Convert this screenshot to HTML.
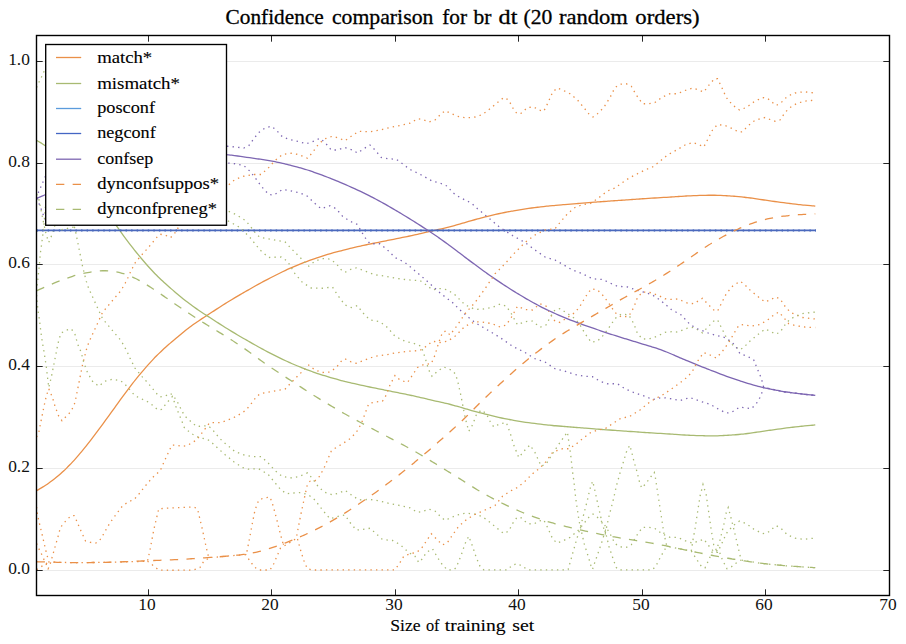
<!DOCTYPE html>
<html><head><meta charset="utf-8"><title>Confidence comparison</title>
<style>
html,body{margin:0;padding:0;background:#fff;}
body{width:906px;height:644px;overflow:hidden;}
svg text{font-family:"Liberation Serif",serif;fill:#000;}
.tk{font-size:17.4px;fill:#111;}
.lb{font-size:16.67px;stroke:#000;stroke-width:0.12px;}
.ti{font-size:21px;stroke:#000;stroke-width:0.3px;}
</style></head><body>
<svg width="906" height="644" viewBox="0 0 906 644" style="display:block">
<rect width="906" height="644" fill="#fff"/>
<defs><clipPath id="ax"><rect x="36.5" y="35.5" width="853.0" height="560.0"/></clipPath></defs>
<line x1="36.5" x2="889.5" y1="570.5" y2="570.5" stroke="#ebebeb" stroke-width="1"/>
<line x1="36.5" x2="889.5" y1="468.5" y2="468.5" stroke="#ebebeb" stroke-width="1"/>
<line x1="36.5" x2="889.5" y1="366.5" y2="366.5" stroke="#ebebeb" stroke-width="1"/>
<line x1="36.5" x2="889.5" y1="264.5" y2="264.5" stroke="#ebebeb" stroke-width="1"/>
<line x1="36.5" x2="889.5" y1="163.5" y2="163.5" stroke="#ebebeb" stroke-width="1"/>
<line x1="36.5" x2="889.5" y1="61.5" y2="61.5" stroke="#ebebeb" stroke-width="1"/>
<g clip-path="url(#ax)">
<path d="M36.60,490.67 C37.10,490.38 38.60,489.51 39.60,488.92 C40.60,488.32 41.60,487.72 42.60,487.10 C43.60,486.49 44.60,485.86 45.60,485.21 C46.60,484.56 47.60,483.90 48.60,483.20 C49.60,482.51 50.60,481.80 51.60,481.06 C52.60,480.32 53.60,479.55 54.60,478.77 C55.60,477.98 56.60,477.16 57.60,476.32 C58.60,475.48 59.60,474.62 60.60,473.73 C61.60,472.84 62.60,471.93 63.60,470.99 C64.60,470.05 65.60,469.09 66.60,468.10 C67.60,467.12 68.60,466.11 69.60,465.07 C70.60,464.04 71.60,462.98 72.60,461.90 C73.60,460.82 74.60,459.72 75.60,458.60 C76.60,457.47 77.60,456.32 78.60,455.15 C79.60,453.99 80.60,452.80 81.60,451.59 C82.60,450.38 83.60,449.16 84.60,447.92 C85.60,446.68 86.60,445.42 87.60,444.14 C88.60,442.87 89.60,441.58 90.60,440.29 C91.60,438.99 92.60,437.68 93.60,436.37 C94.60,435.05 95.60,433.72 96.60,432.39 C97.60,431.06 98.60,429.72 99.60,428.38 C100.60,427.04 101.60,425.69 102.60,424.33 C103.60,422.97 104.60,421.61 105.60,420.24 C106.60,418.87 107.60,417.50 108.60,416.12 C109.60,414.74 110.60,413.36 111.60,411.97 C112.60,410.58 113.60,409.19 114.60,407.80 C115.60,406.41 116.60,405.01 117.60,403.62 C118.60,402.23 119.60,400.84 120.60,399.46 C121.60,398.08 122.60,396.70 123.60,395.33 C124.60,393.97 125.60,392.61 126.60,391.27 C127.60,389.93 128.60,388.60 129.60,387.29 C130.60,385.98 131.60,384.69 132.60,383.41 C133.60,382.13 134.60,380.87 135.60,379.63 C136.60,378.38 137.60,377.15 138.60,375.93 C139.60,374.71 140.60,373.51 141.60,372.32 C142.60,371.14 143.60,369.96 144.60,368.81 C145.60,367.65 146.60,366.51 147.60,365.39 C148.60,364.27 149.60,363.16 150.60,362.08 C151.60,361.00 152.60,359.94 153.60,358.89 C154.60,357.85 155.60,356.83 156.60,355.82 C157.60,354.82 158.60,353.84 159.60,352.87 C160.60,351.90 161.60,350.96 162.60,350.02 C163.60,349.09 164.60,348.18 165.60,347.27 C166.60,346.37 167.60,345.48 168.60,344.60 C169.60,343.71 170.60,342.84 171.60,341.98 C172.60,341.11 173.60,340.26 174.60,339.41 C175.60,338.56 176.60,337.71 177.60,336.88 C178.60,336.04 179.60,335.21 180.60,334.38 C181.60,333.56 182.60,332.75 183.60,331.94 C184.60,331.14 185.60,330.35 186.60,329.57 C187.60,328.79 188.60,328.03 189.60,327.28 C190.60,326.53 191.60,325.80 192.60,325.08 C193.60,324.36 194.60,323.66 195.60,322.97 C196.60,322.27 197.60,321.59 198.60,320.92 C199.60,320.24 200.60,319.57 201.60,318.91 C202.60,318.25 203.60,317.59 204.60,316.93 C205.60,316.28 206.60,315.62 207.60,314.97 C208.60,314.32 209.60,313.67 210.60,313.02 C211.60,312.37 212.60,311.73 213.60,311.08 C214.60,310.43 215.60,309.79 216.60,309.14 C217.60,308.50 218.60,307.86 219.60,307.22 C220.60,306.58 221.60,305.94 222.60,305.31 C223.60,304.67 224.60,304.04 225.60,303.41 C226.60,302.79 227.60,302.16 228.60,301.55 C229.60,300.93 230.60,300.32 231.60,299.72 C232.60,299.11 233.60,298.51 234.60,297.92 C235.60,297.33 236.60,296.74 237.60,296.15 C238.60,295.56 239.60,294.98 240.60,294.40 C241.60,293.82 242.60,293.24 243.60,292.66 C244.60,292.08 245.60,291.51 246.60,290.93 C247.60,290.36 248.60,289.78 249.60,289.21 C250.60,288.64 251.60,288.07 252.60,287.50 C253.60,286.93 254.60,286.36 255.60,285.80 C256.60,285.24 257.60,284.68 258.60,284.13 C259.60,283.58 260.60,283.03 261.60,282.48 C262.60,281.94 263.60,281.41 264.60,280.87 C265.60,280.34 266.60,279.82 267.60,279.30 C268.60,278.78 269.60,278.26 270.60,277.75 C271.60,277.24 272.60,276.73 273.60,276.22 C274.60,275.72 275.60,275.22 276.60,274.72 C277.60,274.22 278.60,273.72 279.60,273.23 C280.60,272.73 281.60,272.24 282.60,271.76 C283.60,271.28 284.60,270.80 285.60,270.33 C286.60,269.86 287.60,269.39 288.60,268.94 C289.60,268.49 290.60,268.04 291.60,267.61 C292.60,267.17 293.60,266.75 294.60,266.33 C295.60,265.91 296.60,265.50 297.60,265.09 C298.60,264.69 299.60,264.29 300.60,263.89 C301.60,263.50 302.60,263.11 303.60,262.72 C304.60,262.33 305.60,261.94 306.60,261.56 C307.60,261.18 308.60,260.81 309.60,260.44 C310.60,260.07 311.60,259.70 312.60,259.34 C313.60,258.99 314.60,258.64 315.60,258.30 C316.60,257.95 317.60,257.62 318.60,257.29 C319.60,256.96 320.60,256.64 321.60,256.33 C322.60,256.01 323.60,255.70 324.60,255.40 C325.60,255.09 326.60,254.79 327.60,254.49 C328.60,254.19 329.60,253.89 330.60,253.59 C331.60,253.30 332.60,253.01 333.60,252.72 C334.60,252.43 335.60,252.15 336.60,251.87 C337.60,251.59 338.60,251.32 339.60,251.05 C340.60,250.78 341.60,250.52 342.60,250.27 C343.60,250.01 344.60,249.77 345.60,249.52 C346.60,249.28 347.60,249.04 348.60,248.80 C349.60,248.56 350.60,248.33 351.60,248.09 C352.60,247.86 353.60,247.63 354.60,247.40 C355.60,247.17 356.60,246.94 357.60,246.72 C358.60,246.49 359.60,246.27 360.60,246.05 C361.60,245.82 362.60,245.60 363.60,245.39 C364.60,245.17 365.60,244.95 366.60,244.74 C367.60,244.53 368.60,244.32 369.60,244.11 C370.60,243.90 371.60,243.70 372.60,243.50 C373.60,243.29 374.60,243.09 375.60,242.89 C376.60,242.68 377.60,242.48 378.60,242.28 C379.60,242.08 380.60,241.88 381.60,241.68 C382.60,241.48 383.60,241.28 384.60,241.08 C385.60,240.88 386.60,240.68 387.60,240.48 C388.60,240.28 389.60,240.08 390.60,239.88 C391.60,239.68 392.60,239.48 393.60,239.28 C394.60,239.08 395.60,238.88 396.60,238.68 C397.60,238.48 398.60,238.28 399.60,238.08 C400.60,237.88 401.60,237.68 402.60,237.47 C403.60,237.27 404.60,237.07 405.60,236.87 C406.60,236.66 407.60,236.46 408.60,236.25 C409.60,236.04 410.60,235.83 411.60,235.61 C412.60,235.39 413.60,235.18 414.60,234.95 C415.60,234.73 416.60,234.50 417.60,234.27 C418.60,234.04 419.60,233.80 420.60,233.57 C421.60,233.33 422.60,233.09 423.60,232.86 C424.60,232.62 425.60,232.38 426.60,232.15 C427.60,231.91 428.60,231.68 429.60,231.44 C430.60,231.21 431.60,230.98 432.60,230.76 C433.60,230.53 434.60,230.31 435.60,230.09 C436.60,229.86 437.60,229.64 438.60,229.42 C439.60,229.20 440.60,228.98 441.60,228.76 C442.60,228.53 443.60,228.30 444.60,228.07 C445.60,227.84 446.60,227.60 447.60,227.36 C448.60,227.11 449.60,226.86 450.60,226.60 C451.60,226.34 452.60,226.07 453.60,225.80 C454.60,225.53 455.60,225.25 456.60,224.96 C457.60,224.68 458.60,224.39 459.60,224.10 C460.60,223.81 461.60,223.51 462.60,223.22 C463.60,222.92 464.60,222.63 465.60,222.33 C466.60,222.04 467.60,221.74 468.60,221.45 C469.60,221.16 470.60,220.87 471.60,220.59 C472.60,220.31 473.60,220.03 474.60,219.75 C475.60,219.47 476.60,219.20 477.60,218.93 C478.60,218.67 479.60,218.40 480.60,218.14 C481.60,217.88 482.60,217.62 483.60,217.37 C484.60,217.12 485.60,216.86 486.60,216.61 C487.60,216.36 488.60,216.11 489.60,215.87 C490.60,215.62 491.60,215.38 492.60,215.14 C493.60,214.90 494.60,214.66 495.60,214.43 C496.60,214.20 497.60,213.97 498.60,213.75 C499.60,213.53 500.60,213.32 501.60,213.11 C502.60,212.90 503.60,212.70 504.60,212.50 C505.60,212.30 506.60,212.11 507.60,211.92 C508.60,211.73 509.60,211.54 510.60,211.36 C511.60,211.18 512.60,210.99 513.60,210.82 C514.60,210.64 515.60,210.46 516.60,210.29 C517.60,210.11 518.60,209.94 519.60,209.78 C520.60,209.61 521.60,209.45 522.60,209.29 C523.60,209.13 524.60,208.98 525.60,208.83 C526.60,208.68 527.60,208.54 528.60,208.40 C529.60,208.26 530.60,208.13 531.60,208.00 C532.60,207.87 533.60,207.74 534.60,207.62 C535.60,207.49 536.60,207.37 537.60,207.25 C538.60,207.13 539.60,207.01 540.60,206.89 C541.60,206.77 542.60,206.66 543.60,206.55 C544.60,206.43 545.60,206.32 546.60,206.21 C547.60,206.11 548.60,206.00 549.60,205.90 C550.60,205.80 551.60,205.70 552.60,205.61 C553.60,205.51 554.60,205.42 555.60,205.34 C556.60,205.25 557.60,205.16 558.60,205.08 C559.60,204.99 560.60,204.91 561.60,204.83 C562.60,204.75 563.60,204.66 564.60,204.58 C565.60,204.50 566.60,204.42 567.60,204.34 C568.60,204.26 569.60,204.18 570.60,204.10 C571.60,204.02 572.60,203.94 573.60,203.86 C574.60,203.78 575.60,203.70 576.60,203.62 C577.60,203.54 578.60,203.46 579.60,203.38 C580.60,203.30 581.60,203.22 582.60,203.14 C583.60,203.06 584.60,202.98 585.60,202.90 C586.60,202.82 587.60,202.74 588.60,202.66 C589.60,202.58 590.60,202.50 591.60,202.43 C592.60,202.35 593.60,202.27 594.60,202.19 C595.60,202.11 596.60,202.04 597.60,201.96 C598.60,201.88 599.60,201.81 600.60,201.73 C601.60,201.66 602.60,201.58 603.60,201.51 C604.60,201.44 605.60,201.37 606.60,201.29 C607.60,201.22 608.60,201.15 609.60,201.08 C610.60,201.01 611.60,200.94 612.60,200.87 C613.60,200.80 614.60,200.73 615.60,200.66 C616.60,200.59 617.60,200.52 618.60,200.45 C619.60,200.38 620.60,200.31 621.60,200.24 C622.60,200.17 623.60,200.10 624.60,200.03 C625.60,199.96 626.60,199.89 627.60,199.82 C628.60,199.75 629.60,199.68 630.60,199.61 C631.60,199.54 632.60,199.47 633.60,199.40 C634.60,199.33 635.60,199.26 636.60,199.19 C637.60,199.12 638.60,199.05 639.60,198.98 C640.60,198.91 641.60,198.84 642.60,198.77 C643.60,198.71 644.60,198.64 645.60,198.57 C646.60,198.51 647.60,198.44 648.60,198.37 C649.60,198.31 650.60,198.25 651.60,198.18 C652.60,198.12 653.60,198.06 654.60,198.00 C655.60,197.94 656.60,197.88 657.60,197.82 C658.60,197.76 659.60,197.70 660.60,197.64 C661.60,197.58 662.60,197.52 663.60,197.46 C664.60,197.40 665.60,197.34 666.60,197.28 C667.60,197.22 668.60,197.16 669.60,197.10 C670.60,197.03 671.60,196.97 672.60,196.90 C673.60,196.83 674.60,196.77 675.60,196.70 C676.60,196.63 677.60,196.56 678.60,196.49 C679.60,196.42 680.60,196.35 681.60,196.28 C682.60,196.21 683.60,196.15 684.60,196.09 C685.60,196.03 686.60,195.98 687.60,195.92 C688.60,195.87 689.60,195.83 690.60,195.78 C691.60,195.74 692.60,195.70 693.60,195.67 C694.60,195.63 695.60,195.59 696.60,195.56 C697.60,195.53 698.60,195.50 699.60,195.47 C700.60,195.44 701.60,195.41 702.60,195.38 C703.60,195.36 704.60,195.33 705.60,195.31 C706.60,195.29 707.60,195.27 708.60,195.26 C709.60,195.24 710.60,195.23 711.60,195.23 C712.60,195.23 713.60,195.24 714.60,195.25 C715.60,195.27 716.60,195.29 717.60,195.32 C718.60,195.35 719.60,195.39 720.60,195.43 C721.60,195.48 722.60,195.53 723.60,195.58 C724.60,195.64 725.60,195.69 726.60,195.75 C727.60,195.81 728.60,195.88 729.60,195.94 C730.60,196.01 731.60,196.07 732.60,196.14 C733.60,196.21 734.60,196.29 735.60,196.36 C736.60,196.44 737.60,196.52 738.60,196.61 C739.60,196.70 740.60,196.80 741.60,196.90 C742.60,197.00 743.60,197.11 744.60,197.23 C745.60,197.34 746.60,197.47 747.60,197.60 C748.60,197.73 749.60,197.86 750.60,198.00 C751.60,198.14 752.60,198.29 753.60,198.43 C754.60,198.57 755.60,198.72 756.60,198.87 C757.60,199.02 758.60,199.17 759.60,199.32 C760.60,199.46 761.60,199.61 762.60,199.76 C763.60,199.91 764.60,200.06 765.60,200.21 C766.60,200.35 767.60,200.50 768.60,200.64 C769.60,200.79 770.60,200.93 771.60,201.08 C772.60,201.22 773.60,201.36 774.60,201.50 C775.60,201.64 776.60,201.78 777.60,201.91 C778.60,202.05 779.60,202.19 780.60,202.32 C781.60,202.46 782.60,202.59 783.60,202.72 C784.60,202.85 785.60,202.99 786.60,203.12 C787.60,203.24 788.60,203.37 789.60,203.50 C790.60,203.62 791.60,203.75 792.60,203.87 C793.60,203.99 794.60,204.11 795.60,204.22 C796.60,204.34 797.60,204.45 798.60,204.56 C799.60,204.66 800.60,204.77 801.60,204.87 C802.60,204.98 803.60,205.08 804.60,205.17 C805.60,205.27 806.60,205.37 807.60,205.46 C808.60,205.55 809.60,205.64 810.60,205.72 C811.60,205.81 812.82,205.89 813.60,205.96 C814.38,206.04 815.02,206.15 815.30,206.19" fill="none" stroke="#ea9048" stroke-width="1.3"/>
<path d="M36.60,437.00 L38.75,432.50 L41.25,420.00 L43.75,407.50 L46.25,396.25 L48.75,388.75 L52.50,397.50 L55.00,406.25 L58.75,416.25 L62.00,420.75 L66.25,416.25 L71.25,411.25 L75.00,402.50 L77.50,390.00 L80.00,377.50 L82.50,365.00 L86.25,350.00 L88.75,342.50 L102.50,312.50 L115.00,297.50 L119.40,292.50 L122.50,287.90 L125.25,283.00 L127.75,278.00 L130.00,273.00 L132.50,268.00 L135.00,263.00 L138.50,258.75 L142.50,254.00 L148.00,248.00 L157.20,236.90 L160.10,234.20 L165.50,235.20 L170.50,237.70 L174.00,234.20 L176.80,230.40 L179.30,225.40 L181.80,220.40 L184.50,215.40 L188.40,211.80 L192.60,207.90 L196.90,204.60 L202.20,205.00 L207.70,205.50 L211.70,202.50 L215.30,198.00 L218.80,193.80 L222.70,189.70 L227.30,186.00 L235.00,179.50 L243.75,176.25 L252.50,174.50 L261.25,174.50 L268.75,167.50 L275.00,160.50 L282.50,154.50 L291.25,153.25 L298.75,154.50 L307.50,158.25 L312.50,152.50 L318.75,143.75 L325.00,138.75 L332.50,136.25 L338.75,138.00 L345.00,140.75 L351.25,136.25 L358.75,131.25 L370.00,131.75 L380.00,130.00 L390.00,127.50 L400.00,125.50 L410.00,123.25 L417.50,118.75 L422.50,119.50 L428.75,122.00 L435.00,120.00 L440.00,115.00 L445.00,110.75 L450.00,113.00 L457.50,116.25 L466.25,118.00 L475.00,117.00 L482.50,114.50 L490.00,108.75 L497.50,102.50 L503.75,97.50 L508.75,100.00 L512.50,107.50 L517.00,113.75 L521.25,113.25 L527.50,107.50 L533.75,107.00 L538.75,110.00 L543.75,111.25 L547.50,103.75 L552.50,92.50 L557.00,88.00 L562.50,90.00 L570.00,93.75 L577.50,100.00 L583.75,107.50 L588.75,113.75 L593.00,117.00 L597.50,113.75 L603.75,107.50 L610.00,97.50 L615.00,87.50 L620.00,84.25 L626.25,83.75 L631.25,86.25 L636.25,95.00 L642.50,103.75 L648.75,103.75 L655.00,102.50 L662.50,97.00 L670.00,93.75 L677.50,93.75 L685.00,90.50 L692.50,88.00 L698.75,90.00 L703.75,92.00 L710.00,83.75 L714.50,78.75 L717.50,78.75 L721.25,86.25 L726.25,97.50 L732.50,105.00 L739.50,110.00 L746.25,107.50 L753.75,102.00 L762.50,97.50 L767.50,98.25 L772.50,102.50 L776.25,105.50 L781.25,102.50 L787.50,96.25 L795.00,93.00 L803.75,91.75 L810.00,92.50 L815.30,93.00" fill="none" stroke="#ea9048" stroke-width="1.3" stroke-dasharray="1.39 4.17"/>
<path d="M36.60,543.50 L38.70,548.40 L41.20,553.40 L43.50,558.60 L46.00,563.60 L48.10,568.80 L49.70,565.70 L51.20,560.50 L52.80,554.90 L54.30,549.50 L55.80,544.30 L57.40,538.90 L58.90,533.40 L60.30,528.00 L63.20,523.70 L67.00,519.70 L70.90,515.80 L74.30,515.60 L76.50,520.60 L78.60,525.50 L80.90,530.80 L83.20,535.80 L85.50,540.90 L90.50,542.40 L95.80,543.00 L99.60,540.50 L102.60,535.80 L105.30,530.90 L108.00,526.20 L111.00,521.40 L114.30,516.80 L117.60,512.50 L120.80,507.80 L124.80,504.10 L129.50,501.50 L134.50,499.00 L138.20,495.00 L145.00,486.25 L152.50,477.50 L156.50,474.20 L160.40,470.20 L162.70,465.00 L164.90,460.00 L167.20,455.00 L169.50,450.10 L171.80,445.10 L176.50,445.10 L182.00,446.40 L186.90,445.70 L191.80,442.80 L196.40,440.10 L199.70,435.90 L203.10,431.50 L206.40,427.00 L209.70,422.70 L215.20,422.70 L220.80,422.70 L226.00,420.70 L231.30,418.70 L236.30,416.30 L240.90,413.50 L245.70,410.40 L249.20,406.20 L252.60,401.90 L255.90,397.40 L259.90,393.80 L265.30,392.80 L276.25,390.75 L285.00,389.25 L292.50,381.25 L300.00,373.75 L305.00,368.75 L308.75,365.00 L315.00,370.00 L322.50,372.50 L330.00,372.00 L336.25,367.50 L341.25,361.25 L345.00,358.75 L351.25,362.00 L356.25,363.25 L365.00,360.00 L375.00,356.25 L385.00,355.00 L395.00,353.00 L407.50,351.25 L420.00,350.50 L426.25,346.25 L432.50,341.25 L440.00,342.50 L447.50,341.25 L455.00,336.25 L460.00,331.25 L465.00,326.25 L475.00,321.75 L482.50,322.00 L492.50,323.75 L500.00,327.00 L506.25,325.00 L511.25,317.50 L517.50,306.25 L525.00,309.50 L532.50,310.00 L540.00,303.75 L546.25,306.25 L550.00,313.75 L555.00,321.25 L560.00,322.50 L567.50,317.50 L575.00,312.50 L580.00,306.25 L585.00,297.50 L591.25,288.75 L597.50,290.00 L603.75,296.25 L610.00,305.00 L615.00,312.50 L621.25,317.00 L628.75,316.25 L633.75,307.50 L637.50,297.50 L642.50,292.00 L650.00,292.50 L657.50,295.00 L665.00,298.75 L672.50,299.50 L677.50,299.00 L687.50,303.00 L693.75,303.75 L702.50,298.25 L707.50,303.75 L713.75,310.00 L717.50,311.25 L721.25,303.75 L726.25,293.75 L732.50,286.25 L740.00,281.25 L743.75,283.75 L750.00,290.00 L757.50,296.25 L765.00,302.00 L770.00,300.00 L775.50,297.00 L780.00,298.75 L785.00,306.25 L790.00,312.00 L796.25,315.00 L802.50,317.50 L812.50,318.75 L815.30,319.00" fill="none" stroke="#ea9048" stroke-width="1.3" stroke-dasharray="1.39 4.17"/>
<path d="M36.60,140.43 C37.10,140.72 38.60,141.59 39.60,142.18 C40.60,142.78 41.60,143.38 42.60,144.00 C43.60,144.61 44.60,145.24 45.60,145.89 C46.60,146.54 47.60,147.20 48.60,147.90 C49.60,148.59 50.60,149.30 51.60,150.04 C52.60,150.78 53.60,151.55 54.60,152.33 C55.60,153.12 56.60,153.94 57.60,154.78 C58.60,155.62 59.60,156.48 60.60,157.37 C61.60,158.26 62.60,159.17 63.60,160.11 C64.60,161.05 65.60,162.01 66.60,163.00 C67.60,163.98 68.60,164.99 69.60,166.03 C70.60,167.06 71.60,168.12 72.60,169.20 C73.60,170.28 74.60,171.38 75.60,172.50 C76.60,173.63 77.60,174.78 78.60,175.95 C79.60,177.11 80.60,178.30 81.60,179.51 C82.60,180.72 83.60,181.94 84.60,183.18 C85.60,184.42 86.60,185.68 87.60,186.96 C88.60,188.23 89.60,189.52 90.60,190.81 C91.60,192.11 92.60,193.42 93.60,194.73 C94.60,196.05 95.60,197.38 96.60,198.71 C97.60,200.04 98.60,201.38 99.60,202.72 C100.60,204.06 101.60,205.41 102.60,206.77 C103.60,208.13 104.60,209.49 105.60,210.86 C106.60,212.23 107.60,213.60 108.60,214.98 C109.60,216.36 110.60,217.74 111.60,219.13 C112.60,220.52 113.60,221.91 114.60,223.30 C115.60,224.69 116.60,226.09 117.60,227.48 C118.60,228.87 119.60,230.26 120.60,231.64 C121.60,233.02 122.60,234.40 123.60,235.77 C124.60,237.13 125.60,238.49 126.60,239.83 C127.60,241.17 128.60,242.50 129.60,243.81 C130.60,245.12 131.60,246.41 132.60,247.69 C133.60,248.97 134.60,250.23 135.60,251.47 C136.60,252.72 137.60,253.95 138.60,255.17 C139.60,256.39 140.60,257.59 141.60,258.78 C142.60,259.96 143.60,261.14 144.60,262.29 C145.60,263.45 146.60,264.59 147.60,265.71 C148.60,266.83 149.60,267.94 150.60,269.02 C151.60,270.10 152.60,271.16 153.60,272.21 C154.60,273.25 155.60,274.27 156.60,275.28 C157.60,276.28 158.60,277.26 159.60,278.23 C160.60,279.20 161.60,280.14 162.60,281.08 C163.60,282.01 164.60,282.92 165.60,283.83 C166.60,284.73 167.60,285.62 168.60,286.50 C169.60,287.39 170.60,288.26 171.60,289.12 C172.60,289.99 173.60,290.84 174.60,291.69 C175.60,292.54 176.60,293.39 177.60,294.22 C178.60,295.06 179.60,295.89 180.60,296.72 C181.60,297.54 182.60,298.35 183.60,299.16 C184.60,299.96 185.60,300.75 186.60,301.53 C187.60,302.31 188.60,303.07 189.60,303.82 C190.60,304.57 191.60,305.30 192.60,306.02 C193.60,306.74 194.60,307.44 195.60,308.13 C196.60,308.83 197.60,309.51 198.60,310.18 C199.60,310.86 200.60,311.53 201.60,312.19 C202.60,312.85 203.60,313.51 204.60,314.17 C205.60,314.82 206.60,315.48 207.60,316.13 C208.60,316.78 209.60,317.43 210.60,318.08 C211.60,318.73 212.60,319.37 213.60,320.02 C214.60,320.67 215.60,321.31 216.60,321.96 C217.60,322.60 218.60,323.24 219.60,323.88 C220.60,324.52 221.60,325.16 222.60,325.79 C223.60,326.43 224.60,327.06 225.60,327.69 C226.60,328.31 227.60,328.94 228.60,329.55 C229.60,330.17 230.60,330.78 231.60,331.38 C232.60,331.99 233.60,332.59 234.60,333.18 C235.60,333.77 236.60,334.36 237.60,334.95 C238.60,335.54 239.60,336.12 240.60,336.70 C241.60,337.28 242.60,337.86 243.60,338.44 C244.60,339.02 245.60,339.59 246.60,340.17 C247.60,340.74 248.60,341.32 249.60,341.89 C250.60,342.46 251.60,343.03 252.60,343.60 C253.60,344.17 254.60,344.74 255.60,345.30 C256.60,345.86 257.60,346.42 258.60,346.97 C259.60,347.52 260.60,348.07 261.60,348.62 C262.60,349.16 263.60,349.69 264.60,350.23 C265.60,350.76 266.60,351.28 267.60,351.80 C268.60,352.32 269.60,352.84 270.60,353.35 C271.60,353.86 272.60,354.37 273.60,354.88 C274.60,355.38 275.60,355.88 276.60,356.38 C277.60,356.88 278.60,357.38 279.60,357.87 C280.60,358.37 281.60,358.86 282.60,359.34 C283.60,359.82 284.60,360.30 285.60,360.77 C286.60,361.24 287.60,361.71 288.60,362.16 C289.60,362.61 290.60,363.06 291.60,363.49 C292.60,363.93 293.60,364.35 294.60,364.77 C295.60,365.19 296.60,365.60 297.60,366.01 C298.60,366.41 299.60,366.81 300.60,367.21 C301.60,367.60 302.60,367.99 303.60,368.38 C304.60,368.77 305.60,369.16 306.60,369.54 C307.60,369.92 308.60,370.29 309.60,370.66 C310.60,371.03 311.60,371.40 312.60,371.76 C313.60,372.11 314.60,372.46 315.60,372.80 C316.60,373.15 317.60,373.48 318.60,373.81 C319.60,374.14 320.60,374.46 321.60,374.77 C322.60,375.09 323.60,375.40 324.60,375.70 C325.60,376.01 326.60,376.31 327.60,376.61 C328.60,376.91 329.60,377.21 330.60,377.51 C331.60,377.80 332.60,378.09 333.60,378.38 C334.60,378.67 335.60,378.95 336.60,379.23 C337.60,379.51 338.60,379.78 339.60,380.05 C340.60,380.32 341.60,380.58 342.60,380.83 C343.60,381.09 344.60,381.33 345.60,381.58 C346.60,381.82 347.60,382.06 348.60,382.30 C349.60,382.54 350.60,382.77 351.60,383.01 C352.60,383.24 353.60,383.47 354.60,383.70 C355.60,383.93 356.60,384.16 357.60,384.38 C358.60,384.61 359.60,384.83 360.60,385.05 C361.60,385.28 362.60,385.50 363.60,385.71 C364.60,385.93 365.60,386.15 366.60,386.36 C367.60,386.57 368.60,386.78 369.60,386.99 C370.60,387.20 371.60,387.40 372.60,387.60 C373.60,387.81 374.60,388.01 375.60,388.21 C376.60,388.42 377.60,388.62 378.60,388.82 C379.60,389.02 380.60,389.22 381.60,389.42 C382.60,389.62 383.60,389.82 384.60,390.02 C385.60,390.22 386.60,390.42 387.60,390.62 C388.60,390.82 389.60,391.02 390.60,391.22 C391.60,391.42 392.60,391.62 393.60,391.82 C394.60,392.02 395.60,392.22 396.60,392.42 C397.60,392.62 398.60,392.82 399.60,393.02 C400.60,393.22 401.60,393.42 402.60,393.63 C403.60,393.83 404.60,394.03 405.60,394.23 C406.60,394.44 407.60,394.64 408.60,394.85 C409.60,395.06 410.60,395.27 411.60,395.49 C412.60,395.71 413.60,395.92 414.60,396.15 C415.60,396.37 416.60,396.60 417.60,396.83 C418.60,397.06 419.60,397.30 420.60,397.53 C421.60,397.77 422.60,398.01 423.60,398.24 C424.60,398.48 425.60,398.72 426.60,398.95 C427.60,399.19 428.60,399.42 429.60,399.66 C430.60,399.89 431.60,400.12 432.60,400.34 C433.60,400.57 434.60,400.79 435.60,401.01 C436.60,401.24 437.60,401.46 438.60,401.68 C439.60,401.90 440.60,402.12 441.60,402.34 C442.60,402.57 443.60,402.80 444.60,403.03 C445.60,403.26 446.60,403.50 447.60,403.74 C448.60,403.99 449.60,404.24 450.60,404.50 C451.60,404.76 452.60,405.03 453.60,405.30 C454.60,405.57 455.60,405.85 456.60,406.14 C457.60,406.42 458.60,406.71 459.60,407.00 C460.60,407.29 461.60,407.59 462.60,407.88 C463.60,408.18 464.60,408.47 465.60,408.77 C466.60,409.06 467.60,409.36 468.60,409.65 C469.60,409.94 470.60,410.23 471.60,410.51 C472.60,410.79 473.60,411.07 474.60,411.35 C475.60,411.63 476.60,411.90 477.60,412.17 C478.60,412.43 479.60,412.70 480.60,412.96 C481.60,413.22 482.60,413.48 483.60,413.73 C484.60,413.98 485.60,414.24 486.60,414.49 C487.60,414.74 488.60,414.99 489.60,415.23 C490.60,415.48 491.60,415.72 492.60,415.96 C493.60,416.20 494.60,416.44 495.60,416.67 C496.60,416.90 497.60,417.13 498.60,417.35 C499.60,417.57 500.60,417.78 501.60,417.99 C502.60,418.20 503.60,418.40 504.60,418.60 C505.60,418.80 506.60,418.99 507.60,419.18 C508.60,419.37 509.60,419.56 510.60,419.74 C511.60,419.92 512.60,420.11 513.60,420.28 C514.60,420.46 515.60,420.64 516.60,420.81 C517.60,420.99 518.60,421.16 519.60,421.32 C520.60,421.49 521.60,421.65 522.60,421.81 C523.60,421.97 524.60,422.12 525.60,422.27 C526.60,422.42 527.60,422.56 528.60,422.70 C529.60,422.84 530.60,422.97 531.60,423.10 C532.60,423.23 533.60,423.36 534.60,423.48 C535.60,423.61 536.60,423.73 537.60,423.85 C538.60,423.97 539.60,424.09 540.60,424.21 C541.60,424.33 542.60,424.44 543.60,424.55 C544.60,424.67 545.60,424.78 546.60,424.89 C547.60,424.99 548.60,425.10 549.60,425.20 C550.60,425.30 551.60,425.40 552.60,425.49 C553.60,425.59 554.60,425.68 555.60,425.76 C556.60,425.85 557.60,425.94 558.60,426.02 C559.60,426.11 560.60,426.19 561.60,426.27 C562.60,426.35 563.60,426.44 564.60,426.52 C565.60,426.60 566.60,426.68 567.60,426.76 C568.60,426.84 569.60,426.92 570.60,427.00 C571.60,427.08 572.60,427.16 573.60,427.24 C574.60,427.32 575.60,427.40 576.60,427.48 C577.60,427.56 578.60,427.64 579.60,427.72 C580.60,427.80 581.60,427.88 582.60,427.96 C583.60,428.04 584.60,428.12 585.60,428.20 C586.60,428.28 587.60,428.36 588.60,428.44 C589.60,428.52 590.60,428.60 591.60,428.67 C592.60,428.75 593.60,428.83 594.60,428.91 C595.60,428.99 596.60,429.06 597.60,429.14 C598.60,429.22 599.60,429.29 600.60,429.37 C601.60,429.44 602.60,429.52 603.60,429.59 C604.60,429.66 605.60,429.73 606.60,429.81 C607.60,429.88 608.60,429.95 609.60,430.02 C610.60,430.09 611.60,430.16 612.60,430.23 C613.60,430.30 614.60,430.37 615.60,430.44 C616.60,430.51 617.60,430.58 618.60,430.65 C619.60,430.72 620.60,430.79 621.60,430.86 C622.60,430.93 623.60,431.00 624.60,431.07 C625.60,431.14 626.60,431.21 627.60,431.28 C628.60,431.35 629.60,431.42 630.60,431.49 C631.60,431.56 632.60,431.63 633.60,431.70 C634.60,431.77 635.60,431.84 636.60,431.91 C637.60,431.98 638.60,432.05 639.60,432.12 C640.60,432.19 641.60,432.26 642.60,432.33 C643.60,432.39 644.60,432.46 645.60,432.53 C646.60,432.59 647.60,432.66 648.60,432.73 C649.60,432.79 650.60,432.85 651.60,432.92 C652.60,432.98 653.60,433.04 654.60,433.10 C655.60,433.16 656.60,433.22 657.60,433.28 C658.60,433.34 659.60,433.40 660.60,433.46 C661.60,433.52 662.60,433.58 663.60,433.64 C664.60,433.70 665.60,433.76 666.60,433.82 C667.60,433.88 668.60,433.94 669.60,434.00 C670.60,434.07 671.60,434.13 672.60,434.20 C673.60,434.27 674.60,434.33 675.60,434.40 C676.60,434.47 677.60,434.54 678.60,434.61 C679.60,434.68 680.60,434.75 681.60,434.82 C682.60,434.89 683.60,434.95 684.60,435.01 C685.60,435.07 686.60,435.12 687.60,435.18 C688.60,435.23 689.60,435.27 690.60,435.32 C691.60,435.36 692.60,435.40 693.60,435.43 C694.60,435.47 695.60,435.51 696.60,435.54 C697.60,435.57 698.60,435.60 699.60,435.63 C700.60,435.66 701.60,435.69 702.60,435.72 C703.60,435.74 704.60,435.77 705.60,435.79 C706.60,435.81 707.60,435.83 708.60,435.84 C709.60,435.86 710.60,435.87 711.60,435.87 C712.60,435.87 713.60,435.86 714.60,435.85 C715.60,435.83 716.60,435.81 717.60,435.78 C718.60,435.75 719.60,435.71 720.60,435.67 C721.60,435.62 722.60,435.57 723.60,435.52 C724.60,435.46 725.60,435.41 726.60,435.35 C727.60,435.29 728.60,435.22 729.60,435.16 C730.60,435.09 731.60,435.03 732.60,434.96 C733.60,434.89 734.60,434.81 735.60,434.74 C736.60,434.66 737.60,434.58 738.60,434.49 C739.60,434.40 740.60,434.30 741.60,434.20 C742.60,434.10 743.60,433.99 744.60,433.87 C745.60,433.76 746.60,433.63 747.60,433.50 C748.60,433.37 749.60,433.24 750.60,433.10 C751.60,432.96 752.60,432.81 753.60,432.67 C754.60,432.53 755.60,432.38 756.60,432.23 C757.60,432.08 758.60,431.93 759.60,431.78 C760.60,431.64 761.60,431.49 762.60,431.34 C763.60,431.19 764.60,431.04 765.60,430.89 C766.60,430.75 767.60,430.60 768.60,430.46 C769.60,430.31 770.60,430.17 771.60,430.02 C772.60,429.88 773.60,429.74 774.60,429.60 C775.60,429.46 776.60,429.32 777.60,429.19 C778.60,429.05 779.60,428.91 780.60,428.78 C781.60,428.64 782.60,428.51 783.60,428.38 C784.60,428.25 785.60,428.11 786.60,427.98 C787.60,427.86 788.60,427.73 789.60,427.60 C790.60,427.48 791.60,427.35 792.60,427.23 C793.60,427.11 794.60,426.99 795.60,426.88 C796.60,426.76 797.60,426.65 798.60,426.54 C799.60,426.44 800.60,426.33 801.60,426.23 C802.60,426.12 803.60,426.02 804.60,425.93 C805.60,425.83 806.60,425.73 807.60,425.64 C808.60,425.55 809.60,425.46 810.60,425.38 C811.60,425.29 812.82,425.21 813.60,425.14 C814.38,425.06 815.02,424.95 815.30,424.91" fill="none" stroke="#a8ba72" stroke-width="1.3"/>
<path d="M36.60,87.60 L38.70,82.70 L41.20,77.70 L43.50,72.50 L46.00,67.50 L48.10,62.30 L49.70,65.40 L51.20,70.60 L52.80,76.20 L54.30,81.60 L55.80,86.80 L57.40,92.20 L58.90,97.70 L60.30,103.10 L63.20,107.40 L67.00,111.40 L70.90,115.30 L74.30,115.50 L76.50,110.50 L78.60,105.60 L80.90,100.30 L83.20,95.30 L85.50,90.20 L90.50,88.70 L95.80,88.10 L99.60,90.60 L102.60,95.30 L105.30,100.20 L108.00,104.90 L111.00,109.70 L114.30,114.30 L117.60,118.60 L120.80,123.30 L124.80,127.00 L129.50,129.60 L134.50,132.10 L138.20,136.10 L145.00,144.85 L152.50,153.60 L156.50,156.90 L160.40,160.90 L162.70,166.10 L164.90,171.10 L167.20,176.10 L169.50,181.00 L171.80,186.00 L176.50,186.00 L182.00,184.70 L186.90,185.40 L191.80,188.30 L196.40,191.00 L199.70,195.20 L203.10,199.60 L206.40,204.10 L209.70,208.40 L215.20,208.40 L220.80,208.40 L226.00,210.40 L231.30,212.40 L236.30,214.80 L240.90,217.60 L245.70,220.70 L249.20,224.90 L252.60,229.20 L255.90,233.70 L259.90,237.30 L265.30,238.30 L276.25,240.35 L285.00,241.85 L292.50,249.85 L300.00,257.35 L305.00,262.35 L308.75,266.10 L315.00,261.10 L322.50,258.60 L330.00,259.10 L336.25,263.60 L341.25,269.85 L345.00,272.35 L351.25,269.10 L356.25,267.85 L365.00,271.10 L375.00,274.85 L385.00,276.10 L395.00,278.10 L407.50,279.85 L420.00,280.60 L426.25,284.85 L432.50,289.85 L440.00,288.60 L447.50,289.85 L455.00,294.85 L460.00,299.85 L465.00,304.85 L475.00,309.35 L482.50,309.10 L492.50,307.35 L500.00,304.10 L506.25,306.10 L511.25,313.60 L517.50,324.85 L525.00,321.60 L532.50,321.10 L540.00,327.35 L546.25,324.85 L550.00,317.35 L555.00,309.85 L560.00,308.60 L567.50,313.60 L575.00,318.60 L580.00,324.85 L585.00,333.60 L591.25,342.35 L597.50,341.10 L603.75,334.85 L610.00,326.10 L615.00,318.60 L621.25,314.10 L628.75,314.85 L633.75,323.60 L637.50,333.60 L642.50,339.10 L650.00,338.60 L657.50,336.10 L665.00,332.35 L672.50,331.60 L677.50,332.10 L687.50,328.10 L693.75,327.35 L702.50,332.85 L707.50,327.35 L713.75,321.10 L717.50,319.85 L721.25,327.35 L726.25,337.35 L732.50,344.85 L740.00,349.85 L743.75,347.35 L750.00,341.10 L757.50,334.85 L765.00,329.10 L770.00,331.10 L775.50,334.10 L780.00,332.35 L785.00,324.85 L790.00,319.10 L796.25,316.10 L802.50,313.60 L812.50,312.35 L815.30,312.10" fill="none" stroke="#a8ba72" stroke-width="1.3" stroke-dasharray="1.39 4.17"/>
<path d="M36.60,194.10 L38.75,198.60 L41.25,211.10 L43.75,223.60 L46.25,234.85 L48.75,242.35 L52.50,233.60 L55.00,224.85 L58.75,214.85 L62.00,210.35 L66.25,214.85 L71.25,219.85 L75.00,228.60 L77.50,241.10 L80.00,253.60 L82.50,266.10 L86.25,281.10 L88.75,288.60 L102.50,318.60 L115.00,333.60 L119.40,338.60 L122.50,343.20 L125.25,348.10 L127.75,353.10 L130.00,358.10 L132.50,363.10 L135.00,368.10 L138.50,372.35 L142.50,377.10 L148.00,383.10 L157.20,394.20 L160.10,396.90 L165.50,395.90 L170.50,393.40 L174.00,396.90 L176.80,400.70 L179.30,405.70 L181.80,410.70 L184.50,415.70 L188.40,419.30 L192.60,423.20 L196.90,426.50 L202.20,426.10 L207.70,425.60 L211.70,428.60 L215.30,433.10 L218.80,437.30 L222.70,441.40 L227.30,445.10 L235.00,451.60 L243.75,454.85 L252.50,456.60 L261.25,456.60 L268.75,463.60 L275.00,470.60 L282.50,476.60 L291.25,477.85 L298.75,476.60 L307.50,472.85 L312.50,478.60 L318.75,487.35 L325.00,492.35 L332.50,494.85 L338.75,493.10 L345.00,490.35 L351.25,494.85 L358.75,499.85 L370.00,499.35 L380.00,501.10 L390.00,503.60 L400.00,505.60 L410.00,507.85 L417.50,512.35 L422.50,511.60 L428.75,509.10 L435.00,511.10 L440.00,516.10 L445.00,520.35 L450.00,518.10 L457.50,514.85 L466.25,513.10 L475.00,514.10 L482.50,516.60 L490.00,522.35 L497.50,528.60 L503.75,533.60 L508.75,531.10 L512.50,523.60 L517.00,517.35 L521.25,517.85 L527.50,523.60 L533.75,524.10 L538.75,521.10 L543.75,519.85 L547.50,527.35 L552.50,538.60 L557.00,543.10 L562.50,541.10 L570.00,537.35 L577.50,531.10 L583.75,523.60 L588.75,517.35 L593.00,514.10 L597.50,517.35 L603.75,523.60 L610.00,533.60 L615.00,543.60 L620.00,546.85 L626.25,547.35 L631.25,544.85 L636.25,536.10 L642.50,527.35 L648.75,527.35 L655.00,528.60 L662.50,534.10 L670.00,537.35 L677.50,537.35 L685.00,540.60 L692.50,543.10 L698.75,541.10 L703.75,539.10 L710.00,547.35 L714.50,552.35 L717.50,552.35 L721.25,544.85 L726.25,533.60 L732.50,526.10 L739.50,521.10 L746.25,523.60 L753.75,529.10 L762.50,533.60 L767.50,532.85 L772.50,528.60 L776.25,525.60 L781.25,528.60 L787.50,534.85 L795.00,538.10 L803.75,539.35 L810.00,538.60 L815.30,538.10" fill="none" stroke="#a8ba72" stroke-width="1.3" stroke-dasharray="1.39 4.17"/>
<path d="M36.6,230.45 L816.0,230.45" fill="none" stroke="#4a69bd" stroke-width="1.7"/>
<path d="M36.6,230.45 L816.0,230.45" fill="none" stroke="#4a69bd" stroke-width="2.9" stroke-dasharray="1.39 4.17" stroke-opacity="0.55"/>
<path d="M36.60,198.32 C37.10,198.12 38.60,197.54 39.60,197.14 C40.60,196.73 41.60,196.32 42.60,195.88 C43.60,195.45 44.60,195.00 45.60,194.53 C46.60,194.07 47.60,193.58 48.60,193.08 C49.60,192.59 50.60,192.07 51.60,191.55 C52.60,191.03 53.60,190.50 54.60,189.96 C55.60,189.42 56.60,188.87 57.60,188.33 C58.60,187.78 59.60,187.23 60.60,186.68 C61.60,186.13 62.60,185.58 63.60,185.03 C64.60,184.48 65.60,183.93 66.60,183.38 C67.60,182.83 68.60,182.29 69.60,181.74 C70.60,181.20 71.60,180.66 72.60,180.12 C73.60,179.59 74.60,179.06 75.60,178.53 C76.60,178.01 77.60,177.49 78.60,176.99 C79.60,176.48 80.60,175.98 81.60,175.49 C82.60,175.00 83.60,174.52 84.60,174.04 C85.60,173.57 86.60,173.10 87.60,172.64 C88.60,172.18 89.60,171.73 90.60,171.28 C91.60,170.83 92.60,170.39 93.60,169.95 C94.60,169.52 95.60,169.09 96.60,168.67 C97.60,168.25 98.60,167.84 99.60,167.44 C100.60,167.04 101.60,166.64 102.60,166.26 C103.60,165.87 104.60,165.50 105.60,165.13 C106.60,164.76 107.60,164.40 108.60,164.05 C109.60,163.69 110.60,163.34 111.60,163.00 C112.60,162.66 113.60,162.33 114.60,162.01 C115.60,161.68 116.60,161.37 117.60,161.06 C118.60,160.76 119.60,160.46 120.60,160.18 C121.60,159.90 122.60,159.62 123.60,159.36 C124.60,159.10 125.60,158.85 126.60,158.60 C127.60,158.36 128.60,158.12 129.60,157.90 C130.60,157.67 131.60,157.45 132.60,157.23 C133.60,157.02 134.60,156.81 135.60,156.61 C136.60,156.41 137.60,156.22 138.60,156.03 C139.60,155.85 140.60,155.68 141.60,155.51 C142.60,155.34 143.60,155.19 144.60,155.04 C145.60,154.89 146.60,154.75 147.60,154.61 C148.60,154.47 149.60,154.35 150.60,154.22 C151.60,154.10 152.60,153.98 153.60,153.87 C154.60,153.76 155.60,153.66 156.60,153.56 C157.60,153.47 158.60,153.38 159.60,153.30 C160.60,153.22 161.60,153.15 162.60,153.09 C163.60,153.03 164.60,152.97 165.60,152.92 C166.60,152.88 167.60,152.83 168.60,152.80 C169.60,152.76 170.60,152.72 171.60,152.69 C172.60,152.66 173.60,152.63 174.60,152.61 C175.60,152.58 176.60,152.56 177.60,152.54 C178.60,152.52 179.60,152.51 180.60,152.50 C181.60,152.48 182.60,152.48 183.60,152.48 C184.60,152.47 185.60,152.48 186.60,152.49 C187.60,152.50 188.60,152.51 189.60,152.53 C190.60,152.55 191.60,152.57 192.60,152.60 C193.60,152.63 194.60,152.66 195.60,152.69 C196.60,152.73 197.60,152.76 198.60,152.80 C199.60,152.84 200.60,152.88 201.60,152.93 C202.60,152.97 203.60,153.02 204.60,153.07 C205.60,153.12 206.60,153.18 207.60,153.23 C208.60,153.29 209.60,153.35 210.60,153.41 C211.60,153.47 212.60,153.54 213.60,153.60 C214.60,153.67 215.60,153.74 216.60,153.81 C217.60,153.88 218.60,153.96 219.60,154.04 C220.60,154.11 221.60,154.20 222.60,154.28 C223.60,154.37 224.60,154.46 225.60,154.56 C226.60,154.66 227.60,154.77 228.60,154.88 C229.60,154.99 230.60,155.10 231.60,155.23 C232.60,155.35 233.60,155.48 234.60,155.61 C235.60,155.74 236.60,155.87 237.60,156.01 C238.60,156.14 239.60,156.28 240.60,156.42 C241.60,156.56 242.60,156.70 243.60,156.84 C244.60,156.98 245.60,157.13 246.60,157.27 C247.60,157.41 248.60,157.55 249.60,157.70 C250.60,157.84 251.60,157.98 252.60,158.13 C253.60,158.27 254.60,158.42 255.60,158.56 C256.60,158.71 257.60,158.85 258.60,159.00 C259.60,159.15 260.60,159.29 261.60,159.44 C262.60,159.59 263.60,159.75 264.60,159.90 C265.60,160.06 266.60,160.22 267.60,160.39 C268.60,160.55 269.60,160.72 270.60,160.90 C271.60,161.08 272.60,161.27 273.60,161.46 C274.60,161.65 275.60,161.85 276.60,162.06 C277.60,162.26 278.60,162.47 279.60,162.69 C280.60,162.91 281.60,163.13 282.60,163.36 C283.60,163.58 284.60,163.81 285.60,164.05 C286.60,164.28 287.60,164.52 288.60,164.77 C289.60,165.01 290.60,165.26 291.60,165.52 C292.60,165.77 293.60,166.03 294.60,166.29 C295.60,166.56 296.60,166.82 297.60,167.10 C298.60,167.37 299.60,167.65 300.60,167.94 C301.60,168.23 302.60,168.52 303.60,168.82 C304.60,169.12 305.60,169.43 306.60,169.75 C307.60,170.07 308.60,170.39 309.60,170.73 C310.60,171.06 311.60,171.40 312.60,171.74 C313.60,172.09 314.60,172.44 315.60,172.79 C316.60,173.14 317.60,173.50 318.60,173.87 C319.60,174.23 320.60,174.60 321.60,174.97 C322.60,175.34 323.60,175.72 324.60,176.10 C325.60,176.48 326.60,176.86 327.60,177.25 C328.60,177.64 329.60,178.03 330.60,178.42 C331.60,178.82 332.60,179.21 333.60,179.62 C334.60,180.02 335.60,180.42 336.60,180.83 C337.60,181.25 338.60,181.66 339.60,182.08 C340.60,182.50 341.60,182.92 342.60,183.35 C343.60,183.78 344.60,184.21 345.60,184.65 C346.60,185.08 347.60,185.52 348.60,185.97 C349.60,186.41 350.60,186.85 351.60,187.30 C352.60,187.75 353.60,188.21 354.60,188.67 C355.60,189.12 356.60,189.58 357.60,190.05 C358.60,190.51 359.60,190.98 360.60,191.46 C361.60,191.93 362.60,192.41 363.60,192.89 C364.60,193.37 365.60,193.86 366.60,194.35 C367.60,194.84 368.60,195.34 369.60,195.85 C370.60,196.35 371.60,196.87 372.60,197.39 C373.60,197.91 374.60,198.43 375.60,198.97 C376.60,199.50 377.60,200.04 378.60,200.59 C379.60,201.14 380.60,201.69 381.60,202.25 C382.60,202.80 383.60,203.37 384.60,203.93 C385.60,204.50 386.60,205.07 387.60,205.64 C388.60,206.21 389.60,206.79 390.60,207.36 C391.60,207.94 392.60,208.52 393.60,209.10 C394.60,209.69 395.60,210.27 396.60,210.86 C397.60,211.45 398.60,212.05 399.60,212.64 C400.60,213.24 401.60,213.84 402.60,214.44 C403.60,215.04 404.60,215.65 405.60,216.26 C406.60,216.87 407.60,217.48 408.60,218.10 C409.60,218.72 410.60,219.34 411.60,219.96 C412.60,220.58 413.60,221.21 414.60,221.84 C415.60,222.47 416.60,223.10 417.60,223.74 C418.60,224.38 419.60,225.02 420.60,225.66 C421.60,226.31 422.60,226.96 423.60,227.60 C424.60,228.25 425.60,228.91 426.60,229.56 C427.60,230.21 428.60,230.87 429.60,231.53 C430.60,232.19 431.60,232.85 432.60,233.52 C433.60,234.19 434.60,234.86 435.60,235.54 C436.60,236.22 437.60,236.91 438.60,237.60 C439.60,238.30 440.60,239.00 441.60,239.71 C442.60,240.43 443.60,241.15 444.60,241.87 C445.60,242.60 446.60,243.34 447.60,244.08 C448.60,244.81 449.60,245.56 450.60,246.31 C451.60,247.05 452.60,247.81 453.60,248.56 C454.60,249.31 455.60,250.06 456.60,250.82 C457.60,251.57 458.60,252.33 459.60,253.08 C460.60,253.84 461.60,254.60 462.60,255.35 C463.60,256.11 464.60,256.86 465.60,257.62 C466.60,258.37 467.60,259.13 468.60,259.88 C469.60,260.63 470.60,261.38 471.60,262.12 C472.60,262.87 473.60,263.61 474.60,264.35 C475.60,265.09 476.60,265.83 477.60,266.57 C478.60,267.30 479.60,268.03 480.60,268.76 C481.60,269.49 482.60,270.22 483.60,270.94 C484.60,271.66 485.60,272.37 486.60,273.09 C487.60,273.80 488.60,274.51 489.60,275.21 C490.60,275.91 491.60,276.61 492.60,277.30 C493.60,277.99 494.60,278.68 495.60,279.36 C496.60,280.04 497.60,280.72 498.60,281.39 C499.60,282.06 500.60,282.73 501.60,283.39 C502.60,284.06 503.60,284.71 504.60,285.37 C505.60,286.02 506.60,286.67 507.60,287.31 C508.60,287.95 509.60,288.58 510.60,289.22 C511.60,289.85 512.60,290.47 513.60,291.09 C514.60,291.72 515.60,292.33 516.60,292.94 C517.60,293.56 518.60,294.16 519.60,294.77 C520.60,295.37 521.60,295.97 522.60,296.56 C523.60,297.15 524.60,297.74 525.60,298.32 C526.60,298.91 527.60,299.48 528.60,300.05 C529.60,300.63 530.60,301.19 531.60,301.75 C532.60,302.31 533.60,302.87 534.60,303.41 C535.60,303.96 536.60,304.50 537.60,305.03 C538.60,305.56 539.60,306.08 540.60,306.59 C541.60,307.10 542.60,307.61 543.60,308.10 C544.60,308.60 545.60,309.09 546.60,309.57 C547.60,310.05 548.60,310.52 549.60,310.99 C550.60,311.46 551.60,311.92 552.60,312.38 C553.60,312.84 554.60,313.29 555.60,313.73 C556.60,314.18 557.60,314.62 558.60,315.05 C559.60,315.49 560.60,315.92 561.60,316.34 C562.60,316.77 563.60,317.19 564.60,317.60 C565.60,318.02 566.60,318.43 567.60,318.83 C568.60,319.24 569.60,319.64 570.60,320.03 C571.60,320.43 572.60,320.82 573.60,321.20 C574.60,321.58 575.60,321.96 576.60,322.33 C577.60,322.71 578.60,323.07 579.60,323.44 C580.60,323.80 581.60,324.16 582.60,324.52 C583.60,324.88 584.60,325.23 585.60,325.59 C586.60,325.94 587.60,326.29 588.60,326.64 C589.60,326.99 590.60,327.34 591.60,327.68 C592.60,328.03 593.60,328.37 594.60,328.71 C595.60,329.06 596.60,329.40 597.60,329.74 C598.60,330.08 599.60,330.42 600.60,330.76 C601.60,331.10 602.60,331.43 603.60,331.77 C604.60,332.11 605.60,332.44 606.60,332.78 C607.60,333.11 608.60,333.44 609.60,333.77 C610.60,334.10 611.60,334.42 612.60,334.75 C613.60,335.07 614.60,335.39 615.60,335.71 C616.60,336.03 617.60,336.34 618.60,336.66 C619.60,336.97 620.60,337.28 621.60,337.59 C622.60,337.90 623.60,338.21 624.60,338.52 C625.60,338.83 626.60,339.14 627.60,339.45 C628.60,339.76 629.60,340.06 630.60,340.37 C631.60,340.68 632.60,340.98 633.60,341.29 C634.60,341.59 635.60,341.90 636.60,342.20 C637.60,342.51 638.60,342.81 639.60,343.12 C640.60,343.42 641.60,343.72 642.60,344.02 C643.60,344.33 644.60,344.63 645.60,344.93 C646.60,345.23 647.60,345.53 648.60,345.84 C649.60,346.14 650.60,346.45 651.60,346.76 C652.60,347.07 653.60,347.38 654.60,347.70 C655.60,348.02 656.60,348.34 657.60,348.68 C658.60,349.01 659.60,349.36 660.60,349.71 C661.60,350.07 662.60,350.44 663.60,350.82 C664.60,351.20 665.60,351.60 666.60,352.00 C667.60,352.40 668.60,352.82 669.60,353.24 C670.60,353.66 671.60,354.09 672.60,354.52 C673.60,354.95 674.60,355.39 675.60,355.82 C676.60,356.26 677.60,356.70 678.60,357.13 C679.60,357.56 680.60,358.00 681.60,358.43 C682.60,358.86 683.60,359.28 684.60,359.71 C685.60,360.13 686.60,360.55 687.60,360.97 C688.60,361.38 689.60,361.79 690.60,362.20 C691.60,362.61 692.60,363.02 693.60,363.42 C694.60,363.83 695.60,364.23 696.60,364.63 C697.60,365.03 698.60,365.43 699.60,365.83 C700.60,366.23 701.60,366.63 702.60,367.03 C703.60,367.43 704.60,367.82 705.60,368.22 C706.60,368.61 707.60,369.01 708.60,369.40 C709.60,369.79 710.60,370.18 711.60,370.57 C712.60,370.95 713.60,371.34 714.60,371.73 C715.60,372.11 716.60,372.49 717.60,372.88 C718.60,373.26 719.60,373.64 720.60,374.02 C721.60,374.40 722.60,374.78 723.60,375.15 C724.60,375.53 725.60,375.91 726.60,376.28 C727.60,376.65 728.60,377.02 729.60,377.38 C730.60,377.74 731.60,378.10 732.60,378.45 C733.60,378.80 734.60,379.14 735.60,379.48 C736.60,379.82 737.60,380.15 738.60,380.47 C739.60,380.80 740.60,381.11 741.60,381.43 C742.60,381.74 743.60,382.05 744.60,382.36 C745.60,382.66 746.60,382.96 747.60,383.26 C748.60,383.56 749.60,383.86 750.60,384.15 C751.60,384.44 752.60,384.73 753.60,385.01 C754.60,385.29 755.60,385.57 756.60,385.84 C757.60,386.11 758.60,386.37 759.60,386.62 C760.60,386.87 761.60,387.12 762.60,387.35 C763.60,387.59 764.60,387.81 765.60,388.04 C766.60,388.26 767.60,388.47 768.60,388.68 C769.60,388.89 770.60,389.10 771.60,389.30 C772.60,389.50 773.60,389.70 774.60,389.90 C775.60,390.09 776.60,390.29 777.60,390.47 C778.60,390.66 779.60,390.85 780.60,391.02 C781.60,391.20 782.60,391.37 783.60,391.54 C784.60,391.70 785.60,391.86 786.60,392.01 C787.60,392.16 788.60,392.30 789.60,392.44 C790.60,392.58 791.60,392.71 792.60,392.84 C793.60,392.96 794.60,393.09 795.60,393.21 C796.60,393.33 797.60,393.45 798.60,393.56 C799.60,393.68 800.60,393.80 801.60,393.91 C802.60,394.02 803.60,394.14 804.60,394.25 C805.60,394.36 806.60,394.47 807.60,394.57 C808.60,394.68 809.60,394.78 810.60,394.88 C811.60,394.98 812.82,395.08 813.60,395.17 C814.38,395.26 815.02,395.38 815.30,395.42" fill="none" stroke="#7d66b2" stroke-width="1.3"/>
<path d="M36.60,198.20 L38.40,192.60 L44.00,179.60 L49.00,168.00 L80.00,140.00 L120.00,135.00 L160.00,140.00 L200.00,143.00 L227.50,146.25 L235.00,147.00 L243.75,148.00 L248.75,145.75 L253.75,138.75 L258.75,132.50 L265.00,128.00 L271.25,126.25 L276.25,130.00 L282.50,137.00 L290.00,139.50 L300.00,142.00 L306.25,143.75 L312.50,141.75 L320.00,138.25 L325.00,142.50 L331.25,150.00 L337.50,150.00 L345.00,147.50 L352.50,150.00 L357.50,153.00 L363.75,148.75 L370.00,145.00 L375.00,150.00 L381.25,157.50 L388.75,158.75 L396.25,159.25 L402.50,163.75 L410.00,169.50 L417.50,173.00 L425.00,177.00 L432.50,181.25 L440.00,183.00 L447.50,186.25 L452.50,192.50 L460.00,197.50 L471.25,203.00 L477.50,208.75 L487.50,217.00 L500.00,227.50 L512.50,235.50 L525.00,242.50 L535.00,250.00 L545.00,257.00 L555.00,260.00 L562.50,264.25 L572.50,270.00 L582.50,273.75 L592.50,278.75 L602.50,279.50 L610.00,283.00 L617.50,286.25 L627.50,287.00 L636.25,290.00 L645.00,292.50 L652.50,295.00 L660.00,300.00 L667.50,306.25 L671.25,309.50 L681.25,315.00 L690.00,324.50 L697.50,328.75 L710.00,333.75 L720.00,336.25 L726.25,338.00 L735.00,345.00 L740.00,353.75 L747.50,356.25 L753.75,360.00 L756.25,366.25 L760.00,375.00 L762.50,382.50 L763.75,387.50 L785.00,392.00 L815.30,395.50" fill="none" stroke="#7d66b2" stroke-width="1.3" stroke-dasharray="1.39 4.17"/>
<path d="M36.60,198.60 L37.40,199.00 L44.00,216.80 L46.00,221.00 L49.00,222.00 L80.00,200.00 L120.00,175.00 L160.00,165.00 L200.00,163.00 L227.50,163.00 L235.00,163.75 L243.75,165.50 L250.00,171.25 L255.00,177.50 L261.25,186.25 L268.75,194.50 L273.75,195.00 L282.50,189.50 L290.00,190.75 L300.00,193.00 L307.50,196.25 L313.75,202.50 L321.25,208.75 L330.00,205.75 L336.25,208.75 L342.50,216.25 L350.00,221.25 L357.50,224.50 L361.25,231.25 L365.00,237.50 L370.00,243.75 L380.00,243.75 L387.50,250.00 L395.00,257.50 L405.00,262.50 L412.50,268.75 L420.00,275.00 L430.00,283.75 L441.00,293.75 L452.50,302.50 L460.00,310.00 L468.75,317.50 L475.00,322.50 L487.50,330.00 L500.00,337.50 L512.50,346.25 L525.00,352.50 L535.00,358.75 L545.00,362.00 L555.00,368.75 L565.00,371.25 L575.00,374.50 L585.00,376.25 L592.50,376.75 L600.00,381.25 L607.50,383.75 L617.50,383.75 L625.00,388.75 L635.00,393.00 L645.00,396.25 L652.50,399.50 L662.50,397.50 L671.25,398.75 L680.00,400.50 L690.00,397.50 L700.00,401.25 L710.00,404.25 L720.00,410.00 L726.25,413.00 L731.25,412.50 L740.00,407.00 L746.25,408.00 L751.25,408.75 L756.25,403.75 L760.00,397.50 L762.50,391.25 L763.75,387.50 L785.00,392.00 L815.30,395.50" fill="none" stroke="#7d66b2" stroke-width="1.3" stroke-dasharray="1.39 4.17"/>
<path d="M36.60,561.75 C37.10,561.76 38.60,561.80 39.60,561.83 C40.60,561.85 41.60,561.88 42.60,561.91 C43.60,561.93 44.60,561.96 45.60,561.98 C46.60,562.01 47.60,562.04 48.60,562.06 C49.60,562.09 50.60,562.11 51.60,562.14 C52.60,562.17 53.60,562.19 54.60,562.22 C55.60,562.24 56.60,562.27 57.60,562.30 C58.60,562.32 59.60,562.35 60.60,562.37 C61.60,562.40 62.60,562.42 63.60,562.45 C64.60,562.47 65.60,562.49 66.60,562.52 C67.60,562.54 68.60,562.56 69.60,562.57 C70.60,562.59 71.60,562.61 72.60,562.62 C73.60,562.63 74.60,562.64 75.60,562.64 C76.60,562.65 77.60,562.65 78.60,562.65 C79.60,562.65 80.60,562.64 81.60,562.64 C82.60,562.63 83.60,562.62 84.60,562.61 C85.60,562.60 86.60,562.59 87.60,562.58 C88.60,562.57 89.60,562.55 90.60,562.54 C91.60,562.53 92.60,562.51 93.60,562.50 C94.60,562.49 95.60,562.47 96.60,562.46 C97.60,562.45 98.60,562.43 99.60,562.42 C100.60,562.40 101.60,562.39 102.60,562.37 C103.60,562.36 104.60,562.34 105.60,562.32 C106.60,562.31 107.60,562.29 108.60,562.26 C109.60,562.24 110.60,562.22 111.60,562.19 C112.60,562.17 113.60,562.14 114.60,562.10 C115.60,562.07 116.60,562.04 117.60,562.00 C118.60,561.97 119.60,561.93 120.60,561.89 C121.60,561.85 122.60,561.81 123.60,561.77 C124.60,561.73 125.60,561.69 126.60,561.64 C127.60,561.60 128.60,561.56 129.60,561.52 C130.60,561.47 131.60,561.43 132.60,561.39 C133.60,561.35 134.60,561.30 135.60,561.26 C136.60,561.22 137.60,561.18 138.60,561.13 C139.60,561.09 140.60,561.05 141.60,561.01 C142.60,560.96 143.60,560.92 144.60,560.88 C145.60,560.84 146.60,560.80 147.60,560.76 C148.60,560.72 149.60,560.68 150.60,560.64 C151.60,560.60 152.60,560.56 153.60,560.52 C154.60,560.48 155.60,560.44 156.60,560.40 C157.60,560.36 158.60,560.32 159.60,560.29 C160.60,560.25 161.60,560.21 162.60,560.17 C163.60,560.13 164.60,560.09 165.60,560.05 C166.60,560.01 167.60,559.97 168.60,559.93 C169.60,559.89 170.60,559.85 171.60,559.81 C172.60,559.77 173.60,559.73 174.60,559.68 C175.60,559.64 176.60,559.59 177.60,559.54 C178.60,559.49 179.60,559.44 180.60,559.39 C181.60,559.34 182.60,559.28 183.60,559.22 C184.60,559.16 185.60,559.10 186.60,559.04 C187.60,558.98 188.60,558.92 189.60,558.85 C190.60,558.79 191.60,558.72 192.60,558.66 C193.60,558.59 194.60,558.53 195.60,558.46 C196.60,558.39 197.60,558.33 198.60,558.26 C199.60,558.19 200.60,558.13 201.60,558.06 C202.60,557.99 203.60,557.93 204.60,557.86 C205.60,557.79 206.60,557.72 207.60,557.65 C208.60,557.59 209.60,557.52 210.60,557.45 C211.60,557.37 212.60,557.30 213.60,557.23 C214.60,557.16 215.60,557.08 216.60,557.00 C217.60,556.92 218.60,556.85 219.60,556.76 C220.60,556.68 221.60,556.60 222.60,556.51 C223.60,556.43 224.60,556.34 225.60,556.25 C226.60,556.16 227.60,556.08 228.60,555.98 C229.60,555.89 230.60,555.80 231.60,555.71 C232.60,555.62 233.60,555.52 234.60,555.42 C235.60,555.33 236.60,555.23 237.60,555.12 C238.60,555.02 239.60,554.91 240.60,554.79 C241.60,554.68 242.60,554.55 243.60,554.42 C244.60,554.29 245.60,554.15 246.60,553.99 C247.60,553.84 248.60,553.67 249.60,553.50 C250.60,553.32 251.60,553.14 252.60,552.94 C253.60,552.74 254.60,552.52 255.60,552.30 C256.60,552.08 257.60,551.84 258.60,551.60 C259.60,551.35 260.60,551.10 261.60,550.83 C262.60,550.57 263.60,550.29 264.60,550.01 C265.60,549.72 266.60,549.43 267.60,549.13 C268.60,548.82 269.60,548.51 270.60,548.19 C271.60,547.87 272.60,547.54 273.60,547.20 C274.60,546.86 275.60,546.52 276.60,546.16 C277.60,545.81 278.60,545.45 279.60,545.08 C280.60,544.72 281.60,544.34 282.60,543.97 C283.60,543.59 284.60,543.21 285.60,542.82 C286.60,542.44 287.60,542.05 288.60,541.65 C289.60,541.25 290.60,540.85 291.60,540.45 C292.60,540.04 293.60,539.63 294.60,539.21 C295.60,538.80 296.60,538.37 297.60,537.95 C298.60,537.52 299.60,537.09 300.60,536.65 C301.60,536.22 302.60,535.77 303.60,535.33 C304.60,534.88 305.60,534.42 306.60,533.96 C307.60,533.50 308.60,533.04 309.60,532.56 C310.60,532.09 311.60,531.61 312.60,531.12 C313.60,530.64 314.60,530.14 315.60,529.65 C316.60,529.15 317.60,528.64 318.60,528.13 C319.60,527.62 320.60,527.10 321.60,526.58 C322.60,526.05 323.60,525.52 324.60,524.98 C325.60,524.44 326.60,523.89 327.60,523.34 C328.60,522.78 329.60,522.22 330.60,521.65 C331.60,521.08 332.60,520.50 333.60,519.91 C334.60,519.33 335.60,518.74 336.60,518.14 C337.60,517.54 338.60,516.94 339.60,516.33 C340.60,515.71 341.60,515.10 342.60,514.48 C343.60,513.85 344.60,513.23 345.60,512.59 C346.60,511.96 347.60,511.33 348.60,510.69 C349.60,510.05 350.60,509.40 351.60,508.75 C352.60,508.10 353.60,507.45 354.60,506.80 C355.60,506.14 356.60,505.48 357.60,504.81 C358.60,504.15 359.60,503.48 360.60,502.81 C361.60,502.14 362.60,501.46 363.60,500.78 C364.60,500.10 365.60,499.41 366.60,498.72 C367.60,498.04 368.60,497.34 369.60,496.65 C370.60,495.95 371.60,495.25 372.60,494.54 C373.60,493.84 374.60,493.13 375.60,492.41 C376.60,491.69 377.60,490.97 378.60,490.25 C379.60,489.52 380.60,488.79 381.60,488.05 C382.60,487.32 383.60,486.58 384.60,485.83 C385.60,485.09 386.60,484.34 387.60,483.59 C388.60,482.84 389.60,482.08 390.60,481.33 C391.60,480.57 392.60,479.80 393.60,479.04 C394.60,478.27 395.60,477.50 396.60,476.72 C397.60,475.95 398.60,475.17 399.60,474.39 C400.60,473.60 401.60,472.82 402.60,472.03 C403.60,471.24 404.60,470.45 405.60,469.65 C406.60,468.85 407.60,468.05 408.60,467.24 C409.60,466.44 410.60,465.63 411.60,464.81 C412.60,464.00 413.60,463.18 414.60,462.36 C415.60,461.53 416.60,460.70 417.60,459.87 C418.60,459.04 419.60,458.20 420.60,457.36 C421.60,456.52 422.60,455.67 423.60,454.82 C424.60,453.97 425.60,453.12 426.60,452.26 C427.60,451.40 428.60,450.54 429.60,449.68 C430.60,448.81 431.60,447.95 432.60,447.08 C433.60,446.21 434.60,445.34 435.60,444.46 C436.60,443.59 437.60,442.71 438.60,441.83 C439.60,440.96 440.60,440.08 441.60,439.20 C442.60,438.32 443.60,437.44 444.60,436.55 C445.60,435.67 446.60,434.78 447.60,433.90 C448.60,433.01 449.60,432.12 450.60,431.23 C451.60,430.34 452.60,429.44 453.60,428.54 C454.60,427.64 455.60,426.74 456.60,425.83 C457.60,424.92 458.60,424.00 459.60,423.07 C460.60,422.14 461.60,421.20 462.60,420.25 C463.60,419.29 464.60,418.32 465.60,417.34 C466.60,416.36 467.60,415.36 468.60,414.35 C469.60,413.35 470.60,412.33 471.60,411.32 C472.60,410.31 473.60,409.29 474.60,408.28 C475.60,407.27 476.60,406.26 477.60,405.27 C478.60,404.27 479.60,403.28 480.60,402.30 C481.60,401.32 482.60,400.35 483.60,399.39 C484.60,398.42 485.60,397.46 486.60,396.51 C487.60,395.55 488.60,394.60 489.60,393.65 C490.60,392.70 491.60,391.75 492.60,390.81 C493.60,389.87 494.60,388.92 495.60,387.99 C496.60,387.05 497.60,386.12 498.60,385.19 C499.60,384.26 500.60,383.34 501.60,382.41 C502.60,381.49 503.60,380.58 504.60,379.67 C505.60,378.75 506.60,377.84 507.60,376.94 C508.60,376.03 509.60,375.13 510.60,374.23 C511.60,373.33 512.60,372.43 513.60,371.53 C514.60,370.64 515.60,369.75 516.60,368.87 C517.60,367.98 518.60,367.10 519.60,366.23 C520.60,365.36 521.60,364.50 522.60,363.65 C523.60,362.80 524.60,361.96 525.60,361.14 C526.60,360.31 527.60,359.50 528.60,358.69 C529.60,357.89 530.60,357.10 531.60,356.31 C532.60,355.52 533.60,354.75 534.60,353.97 C535.60,353.20 536.60,352.44 537.60,351.67 C538.60,350.91 539.60,350.15 540.60,349.39 C541.60,348.64 542.60,347.88 543.60,347.14 C544.60,346.39 545.60,345.65 546.60,344.91 C547.60,344.18 548.60,343.45 549.60,342.73 C550.60,342.02 551.60,341.31 552.60,340.61 C553.60,339.91 554.60,339.22 555.60,338.54 C556.60,337.86 557.60,337.19 558.60,336.53 C559.60,335.87 560.60,335.21 561.60,334.57 C562.60,333.93 563.60,333.30 564.60,332.67 C565.60,332.05 566.60,331.43 567.60,330.82 C568.60,330.21 569.60,329.60 570.60,329.00 C571.60,328.40 572.60,327.80 573.60,327.21 C574.60,326.61 575.60,326.02 576.60,325.42 C577.60,324.83 578.60,324.24 579.60,323.65 C580.60,323.06 581.60,322.47 582.60,321.88 C583.60,321.29 584.60,320.70 585.60,320.11 C586.60,319.52 587.60,318.93 588.60,318.34 C589.60,317.76 590.60,317.17 591.60,316.58 C592.60,316.00 593.60,315.41 594.60,314.82 C595.60,314.24 596.60,313.65 597.60,313.07 C598.60,312.49 599.60,311.90 600.60,311.32 C601.60,310.73 602.60,310.15 603.60,309.57 C604.60,308.98 605.60,308.40 606.60,307.82 C607.60,307.24 608.60,306.65 609.60,306.07 C610.60,305.49 611.60,304.91 612.60,304.33 C613.60,303.76 614.60,303.18 615.60,302.60 C616.60,302.03 617.60,301.46 618.60,300.89 C619.60,300.32 620.60,299.75 621.60,299.19 C622.60,298.63 623.60,298.07 624.60,297.51 C625.60,296.95 626.60,296.39 627.60,295.84 C628.60,295.28 629.60,294.73 630.60,294.18 C631.60,293.62 632.60,293.07 633.60,292.52 C634.60,291.97 635.60,291.42 636.60,290.86 C637.60,290.31 638.60,289.76 639.60,289.20 C640.60,288.65 641.60,288.09 642.60,287.53 C643.60,286.97 644.60,286.41 645.60,285.85 C646.60,285.29 647.60,284.73 648.60,284.16 C649.60,283.59 650.60,283.02 651.60,282.45 C652.60,281.87 653.60,281.30 654.60,280.71 C655.60,280.13 656.60,279.55 657.60,278.95 C658.60,278.36 659.60,277.76 660.60,277.15 C661.60,276.54 662.60,275.92 663.60,275.30 C664.60,274.67 665.60,274.04 666.60,273.40 C667.60,272.76 668.60,272.11 669.60,271.46 C670.60,270.81 671.60,270.15 672.60,269.49 C673.60,268.83 674.60,268.17 675.60,267.50 C676.60,266.83 677.60,266.16 678.60,265.49 C679.60,264.82 680.60,264.15 681.60,263.47 C682.60,262.79 683.60,262.11 684.60,261.43 C685.60,260.75 686.60,260.06 687.60,259.37 C688.60,258.69 689.60,258.00 690.60,257.30 C691.60,256.61 692.60,255.92 693.60,255.22 C694.60,254.53 695.60,253.83 696.60,253.14 C697.60,252.44 698.60,251.75 699.60,251.06 C700.60,250.37 701.60,249.69 702.60,249.01 C703.60,248.33 704.60,247.66 705.60,247.00 C706.60,246.34 707.60,245.69 708.60,245.06 C709.60,244.42 710.60,243.79 711.60,243.18 C712.60,242.57 713.60,241.97 714.60,241.38 C715.60,240.80 716.60,240.22 717.60,239.65 C718.60,239.08 719.60,238.52 720.60,237.96 C721.60,237.40 722.60,236.85 723.60,236.30 C724.60,235.76 725.60,235.22 726.60,234.68 C727.60,234.15 728.60,233.62 729.60,233.10 C730.60,232.59 731.60,232.08 732.60,231.58 C733.60,231.09 734.60,230.61 735.60,230.14 C736.60,229.67 737.60,229.21 738.60,228.77 C739.60,228.32 740.60,227.89 741.60,227.47 C742.60,227.05 743.60,226.63 744.60,226.23 C745.60,225.83 746.60,225.44 747.60,225.05 C748.60,224.67 749.60,224.29 750.60,223.93 C751.60,223.57 752.60,223.21 753.60,222.87 C754.60,222.53 755.60,222.21 756.60,221.89 C757.60,221.58 758.60,221.28 759.60,220.99 C760.60,220.70 761.60,220.42 762.60,220.15 C763.60,219.88 764.60,219.63 765.60,219.38 C766.60,219.14 767.60,218.90 768.60,218.68 C769.60,218.46 770.60,218.25 771.60,218.05 C772.60,217.85 773.60,217.66 774.60,217.49 C775.60,217.31 776.60,217.15 777.60,216.99 C778.60,216.84 779.60,216.69 780.60,216.55 C781.60,216.41 782.60,216.28 783.60,216.16 C784.60,216.03 785.60,215.91 786.60,215.80 C787.60,215.68 788.60,215.58 789.60,215.47 C790.60,215.37 791.60,215.28 792.60,215.19 C793.60,215.10 794.60,215.01 795.60,214.93 C796.60,214.86 797.60,214.78 798.60,214.72 C799.60,214.65 800.60,214.59 801.60,214.53 C802.60,214.46 803.60,214.41 804.60,214.35 C805.60,214.30 806.60,214.24 807.60,214.19 C808.60,214.14 809.60,214.09 810.60,214.04 C811.60,214.00 812.82,213.95 813.60,213.91 C814.38,213.87 815.02,213.81 815.30,213.79" fill="none" stroke="#ea9048" stroke-width="1.3" stroke-dasharray="8.33 8.33"/>
<path d="M36.60,507.00 L37.70,516.00 L39.00,521.40 L40.20,526.80 L41.60,532.20 L42.80,537.60 L44.10,543.00 L45.30,548.40 L46.60,553.60 L48.10,559.20 L49.00,562.00 L75.00,562.75 L112.50,562.25 L147.50,561.25 L150.00,550.00 L153.75,530.00 L158.75,508.75 L170.00,508.00 L182.50,507.50 L193.75,507.00 L197.50,508.75 L202.50,530.00 L206.25,547.50 L208.75,557.50 L217.50,557.00 L245.00,554.50 L246.25,555.00 L248.75,542.50 L252.50,522.50 L255.00,510.00 L258.75,500.00 L263.75,498.00 L270.00,497.00 L272.50,503.75 L276.25,517.50 L280.00,532.50 L283.75,546.25 L296.25,538.50 L298.75,525.00 L301.25,512.50 L304.50,497.50 L307.50,484.00 L310.00,481.25 L315.00,480.75 L318.75,477.50 L323.75,468.75 L327.50,460.00 L331.25,451.25 L335.00,448.25 L342.50,443.75 L350.00,438.75 L356.25,432.50 L361.25,423.75 L365.00,413.75 L368.75,403.75 L375.00,402.00 L382.50,401.25 L386.25,395.00 L390.00,385.00 L395.00,375.50 L400.00,380.00 L407.50,382.50 L412.50,375.00 L417.50,367.50 L423.75,364.50 L431.25,363.75 L435.00,355.00 L438.75,342.50 L442.50,332.50 L446.00,331.00 L450.00,335.00 L457.50,325.00 L465.00,313.75 L475.00,302.50 L485.00,288.75 L495.00,273.75 L505.00,263.75 L515.00,252.50 L525.00,242.50 L535.00,235.00 L545.00,230.00 L555.00,228.75 L560.00,222.50 L567.50,213.75 L575.00,207.50 L582.50,204.50 L590.00,203.75 L597.50,198.75 L607.50,191.00 L615.00,188.00 L622.50,182.50 L630.00,177.50 L637.50,173.75 L645.00,170.00 L652.50,167.00 L660.00,161.25 L667.50,155.00 L677.50,149.50 L685.00,145.00 L692.50,142.50 L698.75,144.50 L703.75,147.00 L708.75,137.50 L712.50,130.00 L717.50,124.50 L725.00,125.50 L732.50,128.75 L738.75,132.00 L742.50,131.75 L747.50,126.25 L753.75,121.25 L760.00,118.75 L765.00,117.50 L770.00,119.50 L775.00,121.25 L780.00,120.00 L785.00,112.50 L790.00,107.50 L796.25,103.75 L803.75,101.25 L811.25,100.50 L815.30,100.30" fill="none" stroke="#ea9048" stroke-width="1.3" stroke-dasharray="1.39 4.17"/>
<path d="M36.60,569.60 L41.60,566.40 L46.00,563.60 L49.00,562.00 M147.50,561.25 L152.50,565.00 L158.75,570.00 L170.00,570.30 L193.75,570.00 L200.00,567.50 L203.75,561.25 L210.00,557.50 M245.00,554.50 L246.25,555.00 L250.00,561.25 L255.00,567.50 L258.75,570.00 L270.00,570.00 L273.75,563.75 L277.50,555.00 L281.25,546.25 L283.75,543.75 M297.50,539.00 L301.25,552.50 L304.50,562.50 L307.50,568.75 L312.50,570.00 L395.00,569.80 L400.00,562.50 L403.75,556.25 L410.00,553.75 L416.25,552.50 L421.25,548.75 L426.25,541.25 L431.25,533.75 L436.25,538.75 L442.50,545.00 L447.50,542.50 L452.50,535.00 L458.75,526.25 L463.75,522.00 L467.50,518.75 L475.00,514.50 L485.00,510.00 L495.00,505.50 L502.50,496.25 L510.00,491.25 L517.50,487.50 L525.00,481.25 L532.50,473.75 L540.00,468.00 L546.25,461.25 L552.50,452.50 L555.00,451.25 L562.50,448.75 L568.75,448.75 L575.00,445.00 L582.50,438.75 L590.00,433.00 L597.50,430.00 L605.00,428.75 L612.50,423.75 L620.00,418.75 L630.00,416.25 L640.00,410.00 L647.50,403.75 L655.00,398.75 L662.50,395.00 L670.00,390.00 L678.75,383.75 L687.50,377.00 L692.50,371.25 L697.50,361.25 L703.75,352.50 L710.00,355.00 L716.25,358.00 L722.50,351.25 L728.75,342.50 L733.75,333.75 L738.75,325.50 L743.75,324.50 L751.25,326.25 L760.00,324.50 L767.50,320.00 L773.75,315.00 L778.75,312.00 L783.75,317.50 L788.75,323.75 L796.25,325.75 L805.00,327.00 L812.50,327.50 L815.30,327.50" fill="none" stroke="#ea9048" stroke-width="1.3" stroke-dasharray="1.39 4.17"/>
<path d="M36.60,290.80 C37.10,290.58 38.60,289.90 39.60,289.45 C40.60,289.00 41.60,288.55 42.60,288.10 C43.60,287.65 44.60,287.21 45.60,286.76 C46.60,286.32 47.60,285.88 48.60,285.45 C49.60,285.01 50.60,284.58 51.60,284.16 C52.60,283.73 53.60,283.31 54.60,282.90 C55.60,282.49 56.60,282.09 57.60,281.70 C58.60,281.30 59.60,280.92 60.60,280.54 C61.60,280.15 62.60,279.78 63.60,279.41 C64.60,279.04 65.60,278.68 66.60,278.32 C67.60,277.96 68.60,277.61 69.60,277.27 C70.60,276.93 71.60,276.60 72.60,276.28 C73.60,275.97 74.60,275.66 75.60,275.37 C76.60,275.08 77.60,274.81 78.60,274.55 C79.60,274.30 80.60,274.06 81.60,273.83 C82.60,273.60 83.60,273.39 84.60,273.19 C85.60,272.99 86.60,272.80 87.60,272.62 C88.60,272.44 89.60,272.26 90.60,272.10 C91.60,271.93 92.60,271.77 93.60,271.62 C94.60,271.48 95.60,271.34 96.60,271.22 C97.60,271.11 98.60,271.00 99.60,270.93 C100.60,270.85 101.60,270.79 102.60,270.76 C103.60,270.73 104.60,270.72 105.60,270.74 C106.60,270.76 107.60,270.80 108.60,270.87 C109.60,270.94 110.60,271.03 111.60,271.14 C112.60,271.25 113.60,271.38 114.60,271.54 C115.60,271.70 116.60,271.88 117.60,272.09 C118.60,272.29 119.60,272.53 120.60,272.79 C121.60,273.05 122.60,273.34 123.60,273.66 C124.60,273.97 125.60,274.31 126.60,274.68 C127.60,275.04 128.60,275.43 129.60,275.83 C130.60,276.24 131.60,276.66 132.60,277.11 C133.60,277.56 134.60,278.03 135.60,278.52 C136.60,279.01 137.60,279.52 138.60,280.06 C139.60,280.59 140.60,281.15 141.60,281.72 C142.60,282.30 143.60,282.89 144.60,283.50 C145.60,284.10 146.60,284.72 147.60,285.35 C148.60,285.98 149.60,286.63 150.60,287.27 C151.60,287.92 152.60,288.58 153.60,289.24 C154.60,289.90 155.60,290.57 156.60,291.25 C157.60,291.92 158.60,292.60 159.60,293.29 C160.60,293.97 161.60,294.66 162.60,295.35 C163.60,296.04 164.60,296.74 165.60,297.43 C166.60,298.12 167.60,298.82 168.60,299.52 C169.60,300.21 170.60,300.91 171.60,301.60 C172.60,302.30 173.60,302.99 174.60,303.68 C175.60,304.37 176.60,305.05 177.60,305.74 C178.60,306.42 179.60,307.10 180.60,307.77 C181.60,308.45 182.60,309.12 183.60,309.78 C184.60,310.45 185.60,311.11 186.60,311.77 C187.60,312.43 188.60,313.09 189.60,313.74 C190.60,314.40 191.60,315.05 192.60,315.71 C193.60,316.36 194.60,317.01 195.60,317.65 C196.60,318.30 197.60,318.95 198.60,319.59 C199.60,320.23 200.60,320.87 201.60,321.51 C202.60,322.15 203.60,322.78 204.60,323.40 C205.60,324.03 206.60,324.65 207.60,325.27 C208.60,325.89 209.60,326.51 210.60,327.12 C211.60,327.73 212.60,328.34 213.60,328.94 C214.60,329.55 215.60,330.15 216.60,330.76 C217.60,331.36 218.60,331.97 219.60,332.57 C220.60,333.18 221.60,333.78 222.60,334.40 C223.60,335.01 224.60,335.62 225.60,336.24 C226.60,336.86 227.60,337.48 228.60,338.11 C229.60,338.74 230.60,339.37 231.60,340.02 C232.60,340.66 233.60,341.30 234.60,341.96 C235.60,342.61 236.60,343.27 237.60,343.94 C238.60,344.60 239.60,345.28 240.60,345.95 C241.60,346.63 242.60,347.32 243.60,348.01 C244.60,348.70 245.60,349.40 246.60,350.11 C247.60,350.82 248.60,351.53 249.60,352.25 C250.60,352.97 251.60,353.70 252.60,354.44 C253.60,355.17 254.60,355.91 255.60,356.64 C256.60,357.38 257.60,358.12 258.60,358.85 C259.60,359.58 260.60,360.31 261.60,361.03 C262.60,361.75 263.60,362.47 264.60,363.17 C265.60,363.88 266.60,364.57 267.60,365.26 C268.60,365.95 269.60,366.63 270.60,367.30 C271.60,367.97 272.60,368.64 273.60,369.30 C274.60,369.96 275.60,370.62 276.60,371.27 C277.60,371.93 278.60,372.58 279.60,373.24 C280.60,373.89 281.60,374.54 282.60,375.19 C283.60,375.84 284.60,376.49 285.60,377.14 C286.60,377.79 287.60,378.44 288.60,379.09 C289.60,379.74 290.60,380.39 291.60,381.04 C292.60,381.69 293.60,382.34 294.60,382.99 C295.60,383.64 296.60,384.29 297.60,384.94 C298.60,385.59 299.60,386.24 300.60,386.89 C301.60,387.54 302.60,388.19 303.60,388.83 C304.60,389.48 305.60,390.13 306.60,390.77 C307.60,391.41 308.60,392.06 309.60,392.70 C310.60,393.33 311.60,393.97 312.60,394.60 C313.60,395.23 314.60,395.86 315.60,396.48 C316.60,397.11 317.60,397.73 318.60,398.34 C319.60,398.96 320.60,399.57 321.60,400.18 C322.60,400.79 323.60,401.39 324.60,401.99 C325.60,402.60 326.60,403.20 327.60,403.80 C328.60,404.40 329.60,405.00 330.60,405.59 C331.60,406.19 332.60,406.78 333.60,407.38 C334.60,407.97 335.60,408.56 336.60,409.14 C337.60,409.72 338.60,410.30 339.60,410.88 C340.60,411.46 341.60,412.03 342.60,412.60 C343.60,413.16 344.60,413.73 345.60,414.29 C346.60,414.85 347.60,415.41 348.60,415.96 C349.60,416.52 350.60,417.07 351.60,417.62 C352.60,418.17 353.60,418.72 354.60,419.27 C355.60,419.82 356.60,420.37 357.60,420.91 C358.60,421.46 359.60,422.00 360.60,422.55 C361.60,423.09 362.60,423.63 363.60,424.16 C364.60,424.70 365.60,425.24 366.60,425.77 C367.60,426.30 368.60,426.83 369.60,427.36 C370.60,427.89 371.60,428.41 372.60,428.94 C373.60,429.46 374.60,429.98 375.60,430.51 C376.60,431.03 377.60,431.55 378.60,432.07 C379.60,432.59 380.60,433.11 381.60,433.64 C382.60,434.16 383.60,434.68 384.60,435.20 C385.60,435.72 386.60,436.25 387.60,436.77 C388.60,437.29 389.60,437.82 390.60,438.34 C391.60,438.87 392.60,439.39 393.60,439.92 C394.60,440.45 395.60,440.98 396.60,441.51 C397.60,442.03 398.60,442.56 399.60,443.09 C400.60,443.62 401.60,444.15 402.60,444.69 C403.60,445.22 404.60,445.75 405.60,446.29 C406.60,446.83 407.60,447.37 408.60,447.91 C409.60,448.46 410.60,449.00 411.60,449.56 C412.60,450.12 413.60,450.68 414.60,451.24 C415.60,451.81 416.60,452.39 417.60,452.97 C418.60,453.55 419.60,454.14 420.60,454.73 C421.60,455.33 422.60,455.92 423.60,456.53 C424.60,457.13 425.60,457.73 426.60,458.34 C427.60,458.94 428.60,459.55 429.60,460.16 C430.60,460.77 431.60,461.38 432.60,461.99 C433.60,462.60 434.60,463.21 435.60,463.82 C436.60,464.43 437.60,465.05 438.60,465.66 C439.60,466.27 440.60,466.88 441.60,467.50 C442.60,468.11 443.60,468.72 444.60,469.34 C445.60,469.95 446.60,470.57 447.60,471.18 C448.60,471.80 449.60,472.41 450.60,473.03 C451.60,473.64 452.60,474.26 453.60,474.88 C454.60,475.50 455.60,476.11 456.60,476.74 C457.60,477.36 458.60,477.98 459.60,478.61 C460.60,479.24 461.60,479.87 462.60,480.50 C463.60,481.14 464.60,481.78 465.60,482.42 C466.60,483.06 467.60,483.70 468.60,484.34 C469.60,484.98 470.60,485.62 471.60,486.25 C472.60,486.88 473.60,487.51 474.60,488.13 C475.60,488.74 476.60,489.35 477.60,489.95 C478.60,490.55 479.60,491.13 480.60,491.71 C481.60,492.29 482.60,492.86 483.60,493.43 C484.60,493.99 485.60,494.55 486.60,495.10 C487.60,495.66 488.60,496.21 489.60,496.75 C490.60,497.30 491.60,497.84 492.60,498.37 C493.60,498.91 494.60,499.44 495.60,499.97 C496.60,500.49 497.60,501.01 498.60,501.51 C499.60,502.02 500.60,502.52 501.60,503.01 C502.60,503.50 503.60,503.98 504.60,504.46 C505.60,504.94 506.60,505.40 507.60,505.87 C508.60,506.33 509.60,506.79 510.60,507.24 C511.60,507.70 512.60,508.15 513.60,508.60 C514.60,509.04 515.60,509.49 516.60,509.93 C517.60,510.37 518.60,510.80 519.60,511.23 C520.60,511.66 521.60,512.08 522.60,512.49 C523.60,512.91 524.60,513.31 525.60,513.71 C526.60,514.11 527.60,514.49 528.60,514.87 C529.60,515.26 530.60,515.63 531.60,515.99 C532.60,516.36 533.60,516.72 534.60,517.08 C535.60,517.44 536.60,517.79 537.60,518.14 C538.60,518.49 539.60,518.84 540.60,519.18 C541.60,519.52 542.60,519.86 543.60,520.19 C544.60,520.52 545.60,520.85 546.60,521.17 C547.60,521.49 548.60,521.80 549.60,522.10 C550.60,522.40 551.60,522.70 552.60,522.98 C553.60,523.27 554.60,523.54 555.60,523.82 C556.60,524.09 557.60,524.35 558.60,524.61 C559.60,524.87 560.60,525.13 561.60,525.39 C562.60,525.64 563.60,525.89 564.60,526.14 C565.60,526.40 566.60,526.65 567.60,526.89 C568.60,527.14 569.60,527.39 570.60,527.64 C571.60,527.88 572.60,528.13 573.60,528.37 C574.60,528.61 575.60,528.85 576.60,529.09 C577.60,529.33 578.60,529.56 579.60,529.79 C580.60,530.02 581.60,530.25 582.60,530.47 C583.60,530.70 584.60,530.91 585.60,531.13 C586.60,531.35 587.60,531.56 588.60,531.78 C589.60,531.99 590.60,532.20 591.60,532.41 C592.60,532.62 593.60,532.83 594.60,533.04 C595.60,533.25 596.60,533.45 597.60,533.66 C598.60,533.87 599.60,534.08 600.60,534.28 C601.60,534.48 602.60,534.69 603.60,534.89 C604.60,535.09 605.60,535.29 606.60,535.48 C607.60,535.68 608.60,535.87 609.60,536.06 C610.60,536.25 611.60,536.43 612.60,536.61 C613.60,536.80 614.60,536.97 615.60,537.15 C616.60,537.32 617.60,537.50 618.60,537.67 C619.60,537.84 620.60,538.01 621.60,538.18 C622.60,538.35 623.60,538.51 624.60,538.68 C625.60,538.85 626.60,539.02 627.60,539.18 C628.60,539.35 629.60,539.52 630.60,539.68 C631.60,539.85 632.60,540.01 633.60,540.18 C634.60,540.35 635.60,540.51 636.60,540.68 C637.60,540.84 638.60,541.01 639.60,541.17 C640.60,541.34 641.60,541.50 642.60,541.67 C643.60,541.83 644.60,541.99 645.60,542.16 C646.60,542.32 647.60,542.49 648.60,542.65 C649.60,542.82 650.60,542.99 651.60,543.16 C652.60,543.33 653.60,543.50 654.60,543.67 C655.60,543.85 656.60,544.03 657.60,544.21 C658.60,544.39 659.60,544.58 660.60,544.78 C661.60,544.97 662.60,545.17 663.60,545.37 C664.60,545.57 665.60,545.78 666.60,545.99 C667.60,546.20 668.60,546.41 669.60,546.63 C670.60,546.84 671.60,547.06 672.60,547.28 C673.60,547.49 674.60,547.71 675.60,547.93 C676.60,548.15 677.60,548.36 678.60,548.58 C679.60,548.79 680.60,549.01 681.60,549.22 C682.60,549.44 683.60,549.65 684.60,549.86 C685.60,550.07 686.60,550.28 687.60,550.49 C688.60,550.69 689.60,550.90 690.60,551.10 C691.60,551.31 692.60,551.51 693.60,551.71 C694.60,551.91 695.60,552.12 696.60,552.32 C697.60,552.52 698.60,552.72 699.60,552.91 C700.60,553.11 701.60,553.31 702.60,553.51 C703.60,553.71 704.60,553.90 705.60,554.10 C706.60,554.29 707.60,554.49 708.60,554.68 C709.60,554.87 710.60,555.06 711.60,555.25 C712.60,555.43 713.60,555.62 714.60,555.81 C715.60,555.99 716.60,556.17 717.60,556.36 C718.60,556.54 719.60,556.72 720.60,556.90 C721.60,557.08 722.60,557.26 723.60,557.44 C724.60,557.62 725.60,557.80 726.60,557.98 C727.60,558.15 728.60,558.33 729.60,558.50 C730.60,558.67 731.60,558.85 732.60,559.02 C733.60,559.18 734.60,559.35 735.60,559.51 C736.60,559.68 737.60,559.84 738.60,560.00 C739.60,560.16 740.60,560.32 741.60,560.47 C742.60,560.63 743.60,560.78 744.60,560.93 C745.60,561.08 746.60,561.23 747.60,561.38 C748.60,561.53 749.60,561.68 750.60,561.82 C751.60,561.97 752.60,562.12 753.60,562.26 C754.60,562.40 755.60,562.54 756.60,562.67 C757.60,562.80 758.60,562.93 759.60,563.06 C760.60,563.19 761.60,563.31 762.60,563.43 C763.60,563.54 764.60,563.66 765.60,563.77 C766.60,563.88 767.60,563.99 768.60,564.09 C769.60,564.20 770.60,564.30 771.60,564.40 C772.60,564.50 773.60,564.60 774.60,564.70 C775.60,564.80 776.60,564.90 777.60,564.99 C778.60,565.09 779.60,565.18 780.60,565.27 C781.60,565.36 782.60,565.45 783.60,565.54 C784.60,565.62 785.60,565.70 786.60,565.78 C787.60,565.86 788.60,565.94 789.60,566.02 C790.60,566.09 791.60,566.16 792.60,566.23 C793.60,566.31 794.60,566.37 795.60,566.44 C796.60,566.51 797.60,566.58 798.60,566.64 C799.60,566.71 800.60,566.78 801.60,566.84 C802.60,566.91 803.60,566.97 804.60,567.03 C805.60,567.10 806.60,567.16 807.60,567.22 C808.60,567.28 809.60,567.34 810.60,567.40 C811.60,567.45 812.82,567.51 813.60,567.56 C814.38,567.61 815.02,567.68 815.30,567.71" fill="none" stroke="#a8ba72" stroke-width="1.3" stroke-dasharray="8.33 8.33"/>
<path d="M36.60,291.00 L37.90,279.00 L39.00,268.00 L40.60,251.40 L41.40,246.00 L42.10,240.50 L42.80,235.10 L43.50,229.60 L44.20,222.00 L45.50,205.00 L49.00,150.00 L61.30,229.80 L73.70,227.00 L86.00,195.00 L120.00,180.00 L160.00,190.00 L200.00,205.00 L230.00,222.00 L240.00,227.50 L250.00,237.50 L260.00,250.00 L268.75,257.50 L281.25,257.00 L287.50,261.25 L295.00,273.75 L302.50,282.50 L311.25,288.00 L322.50,288.25 L332.50,287.00 L337.50,295.00 L345.00,305.00 L351.25,307.50 L357.50,305.50 L362.50,312.50 L370.00,320.00 L380.00,321.75 L387.50,327.50 L395.00,336.25 L405.00,341.25 L415.00,343.75 L421.25,346.25 L425.00,357.50 L428.75,370.00 L432.00,376.25 L437.50,371.25 L443.75,367.00 L451.25,370.00 L455.50,374.00 L458.00,382.50 L461.00,396.00 L465.00,417.00 L468.75,431.25 L472.50,425.00 L476.25,415.00 L481.25,410.00 L486.25,413.75 L490.00,421.25 L493.75,427.00 L500.00,423.75 L506.25,422.50 L510.00,432.50 L513.75,445.00 L518.75,457.50 L525.00,450.00 L530.00,445.00 L535.00,452.50 L541.25,466.25 L546.25,463.75 L552.50,453.75 L560.00,442.50 L567.40,432.00 L569.00,443.30 L570.70,455.00 L572.40,470.70 L574.00,481.80 L575.70,498.00 L577.40,509.70 L579.00,520.50 L580.40,527.00 L583.20,516.40 L587.30,500.60 L589.80,489.50 L592.60,481.20 L594.00,486.50 L597.50,502.60 L600.00,513.60 L602.40,524.40 L605.30,533.00 L608.90,516.60 L613.10,500.60 L616.40,486.00 L619.70,474.00 L623.00,463.20 L626.40,452.00 L629.70,445.30 L631.40,450.80 L633.90,461.20 L637.20,472.40 L639.70,482.80 L641.70,488.00 L644.70,484.80 L648.00,480.70 L651.00,476.50 L654.30,472.40 L655.40,477.70 L657.10,489.00 L658.80,499.80 L660.40,510.60 L662.10,521.40 L663.80,533.00 L666.80,546.20 L679.30,548.80 L691.30,551.00 L693.00,539.80 L695.00,528.90 L697.50,512.50 L700.00,496.25 L703.00,484.50 L706.25,495.00 L708.75,512.50 L711.25,530.00 L713.75,545.00 L716.25,550.00 L720.00,540.00 L723.75,525.00 L726.25,512.50 L728.25,507.50 L731.25,518.75 L735.00,534.00 L738.75,550.00 L741.10,560.00 L760.00,563.25 L785.00,565.75 L815.30,567.75" fill="none" stroke="#a8ba72" stroke-width="1.3" stroke-dasharray="1.39 4.17"/>
<path d="M36.60,295.00 L37.90,310.00 L39.50,320.40 L40.90,332.30 L42.30,342.20 L43.90,351.20 L46.25,366.25 L47.50,377.50 L48.75,387.50 L51.25,377.50 L53.75,365.00 L56.25,352.50 L57.80,344.20 L60.80,333.30 L65.80,330.30 L71.10,328.70 L74.70,333.30 L77.70,344.20 L81.25,352.50 L83.75,362.50 L87.50,372.50 L92.50,381.25 L98.75,386.25 L105.00,381.25 L112.50,379.25 L120.00,380.50 L123.70,382.80 L127.50,387.10 L131.10,391.30 L134.60,395.40 L139.40,397.90 L144.60,400.20 L149.40,402.70 L153.70,406.20 L157.90,409.90 L161.50,409.40 L165.20,404.90 L168.70,400.70 L172.30,396.60 L174.20,401.60 L176.10,406.90 L178.10,412.00 L180.30,417.30 L182.30,422.30 L184.30,427.60 L188.40,431.10 L192.80,434.30 L197.70,436.90 L203.00,438.40 L208.50,440.10 L212.70,443.40 L216.80,447.20 L221.00,451.10 L225.10,454.70 L229.30,458.00 L233.80,461.70 L238.30,464.70 L242.90,467.70 L248.20,469.20 L253.40,468.80 L258.70,468.80 L263.70,471.70 L268.30,474.60 L273.75,481.25 L280.00,488.75 L286.25,493.75 L293.75,493.00 L301.25,492.50 L308.75,495.00 L315.00,500.00 L322.50,510.00 L330.00,518.75 L338.75,516.25 L345.00,515.00 L350.00,522.50 L356.25,530.00 L362.50,529.50 L370.00,528.25 L376.25,533.75 L382.50,539.50 L392.50,540.50 L400.00,544.50 L408.75,552.50 L415.00,556.25 L418.75,562.50 L422.50,558.75 L426.25,552.50 L432.50,548.75 L437.50,557.50 L442.50,565.00 L447.50,570.00 L453.75,569.80 L456.25,567.50 L461.25,555.00 L465.00,543.75 L468.75,536.25 L472.50,546.25 L476.25,557.50 L480.00,566.25 L483.75,569.80 L507.50,569.80 L512.50,565.00 L517.50,563.75 L522.50,566.25 L527.50,569.80 L565.00,569.80 L568.10,569.60 L576.10,541.30 L580.40,527.00 L584.30,544.00 L587.60,554.50 L590.80,565.20 L592.50,569.40 L594.30,563.80 L598.00,553.30 L601.60,542.70 L605.30,531.00 L608.90,546.20 L612.40,556.70 L616.00,567.20 L618.50,569.80 L620.00,569.80 L652.50,569.80 L656.10,565.60 L661.20,555.70 L666.80,546.20 M691.30,551.00 L695.40,557.50 L698.50,562.10 L701.25,566.25 L705.00,568.00 L708.75,560.00 L712.50,551.25 L716.40,551.00 L718.75,550.00 L722.50,560.00 L727.00,568.75 L731.25,567.00 L735.00,563.75 L741.00,560.00" fill="none" stroke="#a8ba72" stroke-width="1.3" stroke-dasharray="1.39 4.17"/>
</g>
<rect x="36.5" y="35.5" width="853.0" height="560.0" fill="none" stroke="#000" stroke-width="1.4"/>
<line x1="148.5" x2="148.5" y1="595.5" y2="589.3" stroke="#000" stroke-width="0.85"/>
<line x1="148.5" x2="148.5" y1="35.5" y2="41.7" stroke="#000" stroke-width="0.85"/>
<text x="147.00" y="610.2" text-anchor="middle" class="tk">10</text>
<line x1="271.5" x2="271.5" y1="595.5" y2="589.3" stroke="#000" stroke-width="0.85"/>
<line x1="271.5" x2="271.5" y1="35.5" y2="41.7" stroke="#000" stroke-width="0.85"/>
<text x="270.00" y="610.2" text-anchor="middle" class="tk">20</text>
<line x1="395.5" x2="395.5" y1="595.5" y2="589.3" stroke="#000" stroke-width="0.85"/>
<line x1="395.5" x2="395.5" y1="35.5" y2="41.7" stroke="#000" stroke-width="0.85"/>
<text x="394.00" y="610.2" text-anchor="middle" class="tk">30</text>
<line x1="518.5" x2="518.5" y1="595.5" y2="589.3" stroke="#000" stroke-width="0.85"/>
<line x1="518.5" x2="518.5" y1="35.5" y2="41.7" stroke="#000" stroke-width="0.85"/>
<text x="517.00" y="610.2" text-anchor="middle" class="tk">40</text>
<line x1="642.5" x2="642.5" y1="595.5" y2="589.3" stroke="#000" stroke-width="0.85"/>
<line x1="642.5" x2="642.5" y1="35.5" y2="41.7" stroke="#000" stroke-width="0.85"/>
<text x="641.00" y="610.2" text-anchor="middle" class="tk">50</text>
<line x1="765.5" x2="765.5" y1="595.5" y2="589.3" stroke="#000" stroke-width="0.85"/>
<line x1="765.5" x2="765.5" y1="35.5" y2="41.7" stroke="#000" stroke-width="0.85"/>
<text x="764.00" y="610.2" text-anchor="middle" class="tk">60</text>
<line x1="889.5" x2="889.5" y1="595.5" y2="589.3" stroke="#000" stroke-width="0.85"/>
<line x1="889.5" x2="889.5" y1="35.5" y2="41.7" stroke="#000" stroke-width="0.85"/>
<text x="888.00" y="610.2" text-anchor="middle" class="tk">70</text>
<line x1="36.5" x2="42.7" y1="570.5" y2="570.5" stroke="#000" stroke-width="0.85"/>
<line x1="889.5" x2="883.3" y1="570.5" y2="570.5" stroke="#000" stroke-width="0.85"/>
<text x="29.9" y="574.40" text-anchor="end" class="tk">0.0</text>
<line x1="36.5" x2="42.7" y1="468.5" y2="468.5" stroke="#000" stroke-width="0.85"/>
<line x1="889.5" x2="883.3" y1="468.5" y2="468.5" stroke="#000" stroke-width="0.85"/>
<text x="29.9" y="472.40" text-anchor="end" class="tk">0.2</text>
<line x1="36.5" x2="42.7" y1="366.5" y2="366.5" stroke="#000" stroke-width="0.85"/>
<line x1="889.5" x2="883.3" y1="366.5" y2="366.5" stroke="#000" stroke-width="0.85"/>
<text x="29.9" y="370.40" text-anchor="end" class="tk">0.4</text>
<line x1="36.5" x2="42.7" y1="264.5" y2="264.5" stroke="#000" stroke-width="0.85"/>
<line x1="889.5" x2="883.3" y1="264.5" y2="264.5" stroke="#000" stroke-width="0.85"/>
<text x="29.9" y="268.40" text-anchor="end" class="tk">0.6</text>
<line x1="36.5" x2="42.7" y1="163.5" y2="163.5" stroke="#000" stroke-width="0.85"/>
<line x1="889.5" x2="883.3" y1="163.5" y2="163.5" stroke="#000" stroke-width="0.85"/>
<text x="29.9" y="167.40" text-anchor="end" class="tk">0.8</text>
<line x1="36.5" x2="42.7" y1="61.5" y2="61.5" stroke="#000" stroke-width="0.85"/>
<line x1="889.5" x2="883.3" y1="61.5" y2="61.5" stroke="#000" stroke-width="0.85"/>
<text x="29.9" y="65.40" text-anchor="end" class="tk">1.0</text>
<text x="225.6" y="23.6" class="ti" textLength="98.2" lengthAdjust="spacingAndGlyphs">Confidence</text>
<text x="331.9" y="23.6" class="ti" textLength="101.5" lengthAdjust="spacingAndGlyphs">comparison</text>
<text x="442.2" y="23.6" class="ti" textLength="24.8" lengthAdjust="spacingAndGlyphs">for</text>
<text x="473.4" y="23.6" class="ti" textLength="17.9" lengthAdjust="spacingAndGlyphs">br</text>
<text x="498.6" y="23.6" class="ti" textLength="18.8" lengthAdjust="spacingAndGlyphs">dt</text>
<text x="523.6" y="23.6" class="ti" textLength="28.8" lengthAdjust="spacingAndGlyphs">(20</text>
<text x="558.9" y="23.6" class="ti" textLength="69.0" lengthAdjust="spacingAndGlyphs">random</text>
<text x="635.3" y="23.6" class="ti" textLength="64.3" lengthAdjust="spacingAndGlyphs">orders)</text>
<text x="390.2" y="630.7" class="lb" textLength="30.4" lengthAdjust="spacingAndGlyphs">Size</text>
<text x="425.9" y="630.7" class="lb" textLength="13.6" lengthAdjust="spacingAndGlyphs">of</text>
<text x="444.8" y="630.7" class="lb" textLength="60.8" lengthAdjust="spacingAndGlyphs">training</text>
<text x="512.3" y="630.7" class="lb" textLength="22.0" lengthAdjust="spacingAndGlyphs">set</text>
<rect x="45.7" y="44.5" width="180.8" height="180.75" fill="#fff" stroke="#000" stroke-width="1.35"/>
<path d="M56,57.50 L81.2,57.50" fill="none" stroke="#ea9048" stroke-width="1.3"/>
<text x="97.2" y="63" class="lb" id="lg0" textLength="55.0" lengthAdjust="spacingAndGlyphs">match*</text>
<path d="M56,83.50 L81.2,83.50" fill="none" stroke="#a8ba72" stroke-width="1.3"/>
<text x="97.2" y="89" class="lb" id="lg1" textLength="82.8" lengthAdjust="spacingAndGlyphs">mismatch*</text>
<path d="M56,108.50 L81.2,108.50" fill="none" stroke="#5b9bdc" stroke-width="1.3"/>
<text x="97.2" y="113.4" class="lb" id="lg2" textLength="57.8" lengthAdjust="spacingAndGlyphs">posconf</text>
<path d="M56,133.50 L81.2,133.50" fill="none" stroke="#4466c4" stroke-width="1.3"/>
<text x="97.2" y="138" class="lb" id="lg3" textLength="58.5" lengthAdjust="spacingAndGlyphs">negconf</text>
<path d="M56,159.20 L81.2,159.20" fill="none" stroke="#7d66b2" stroke-width="1.3"/>
<text x="97.2" y="164" class="lb" id="lg4" textLength="56.0" lengthAdjust="spacingAndGlyphs">confsep</text>
<path d="M56,184.40 L81.2,184.40" fill="none" stroke="#ea9048" stroke-width="1.3" stroke-dasharray="8.33 8.33"/>
<text x="97.2" y="189.2" class="lb" id="lg5" textLength="121.9" lengthAdjust="spacingAndGlyphs">dynconfsuppos*</text>
<path d="M56,209.40 L81.2,209.40" fill="none" stroke="#a8ba72" stroke-width="1.3" stroke-dasharray="8.33 8.33"/>
<text x="97.2" y="214" class="lb" id="lg6" textLength="119.7" lengthAdjust="spacingAndGlyphs">dynconfpreneg*</text>
</svg>
</body></html>
